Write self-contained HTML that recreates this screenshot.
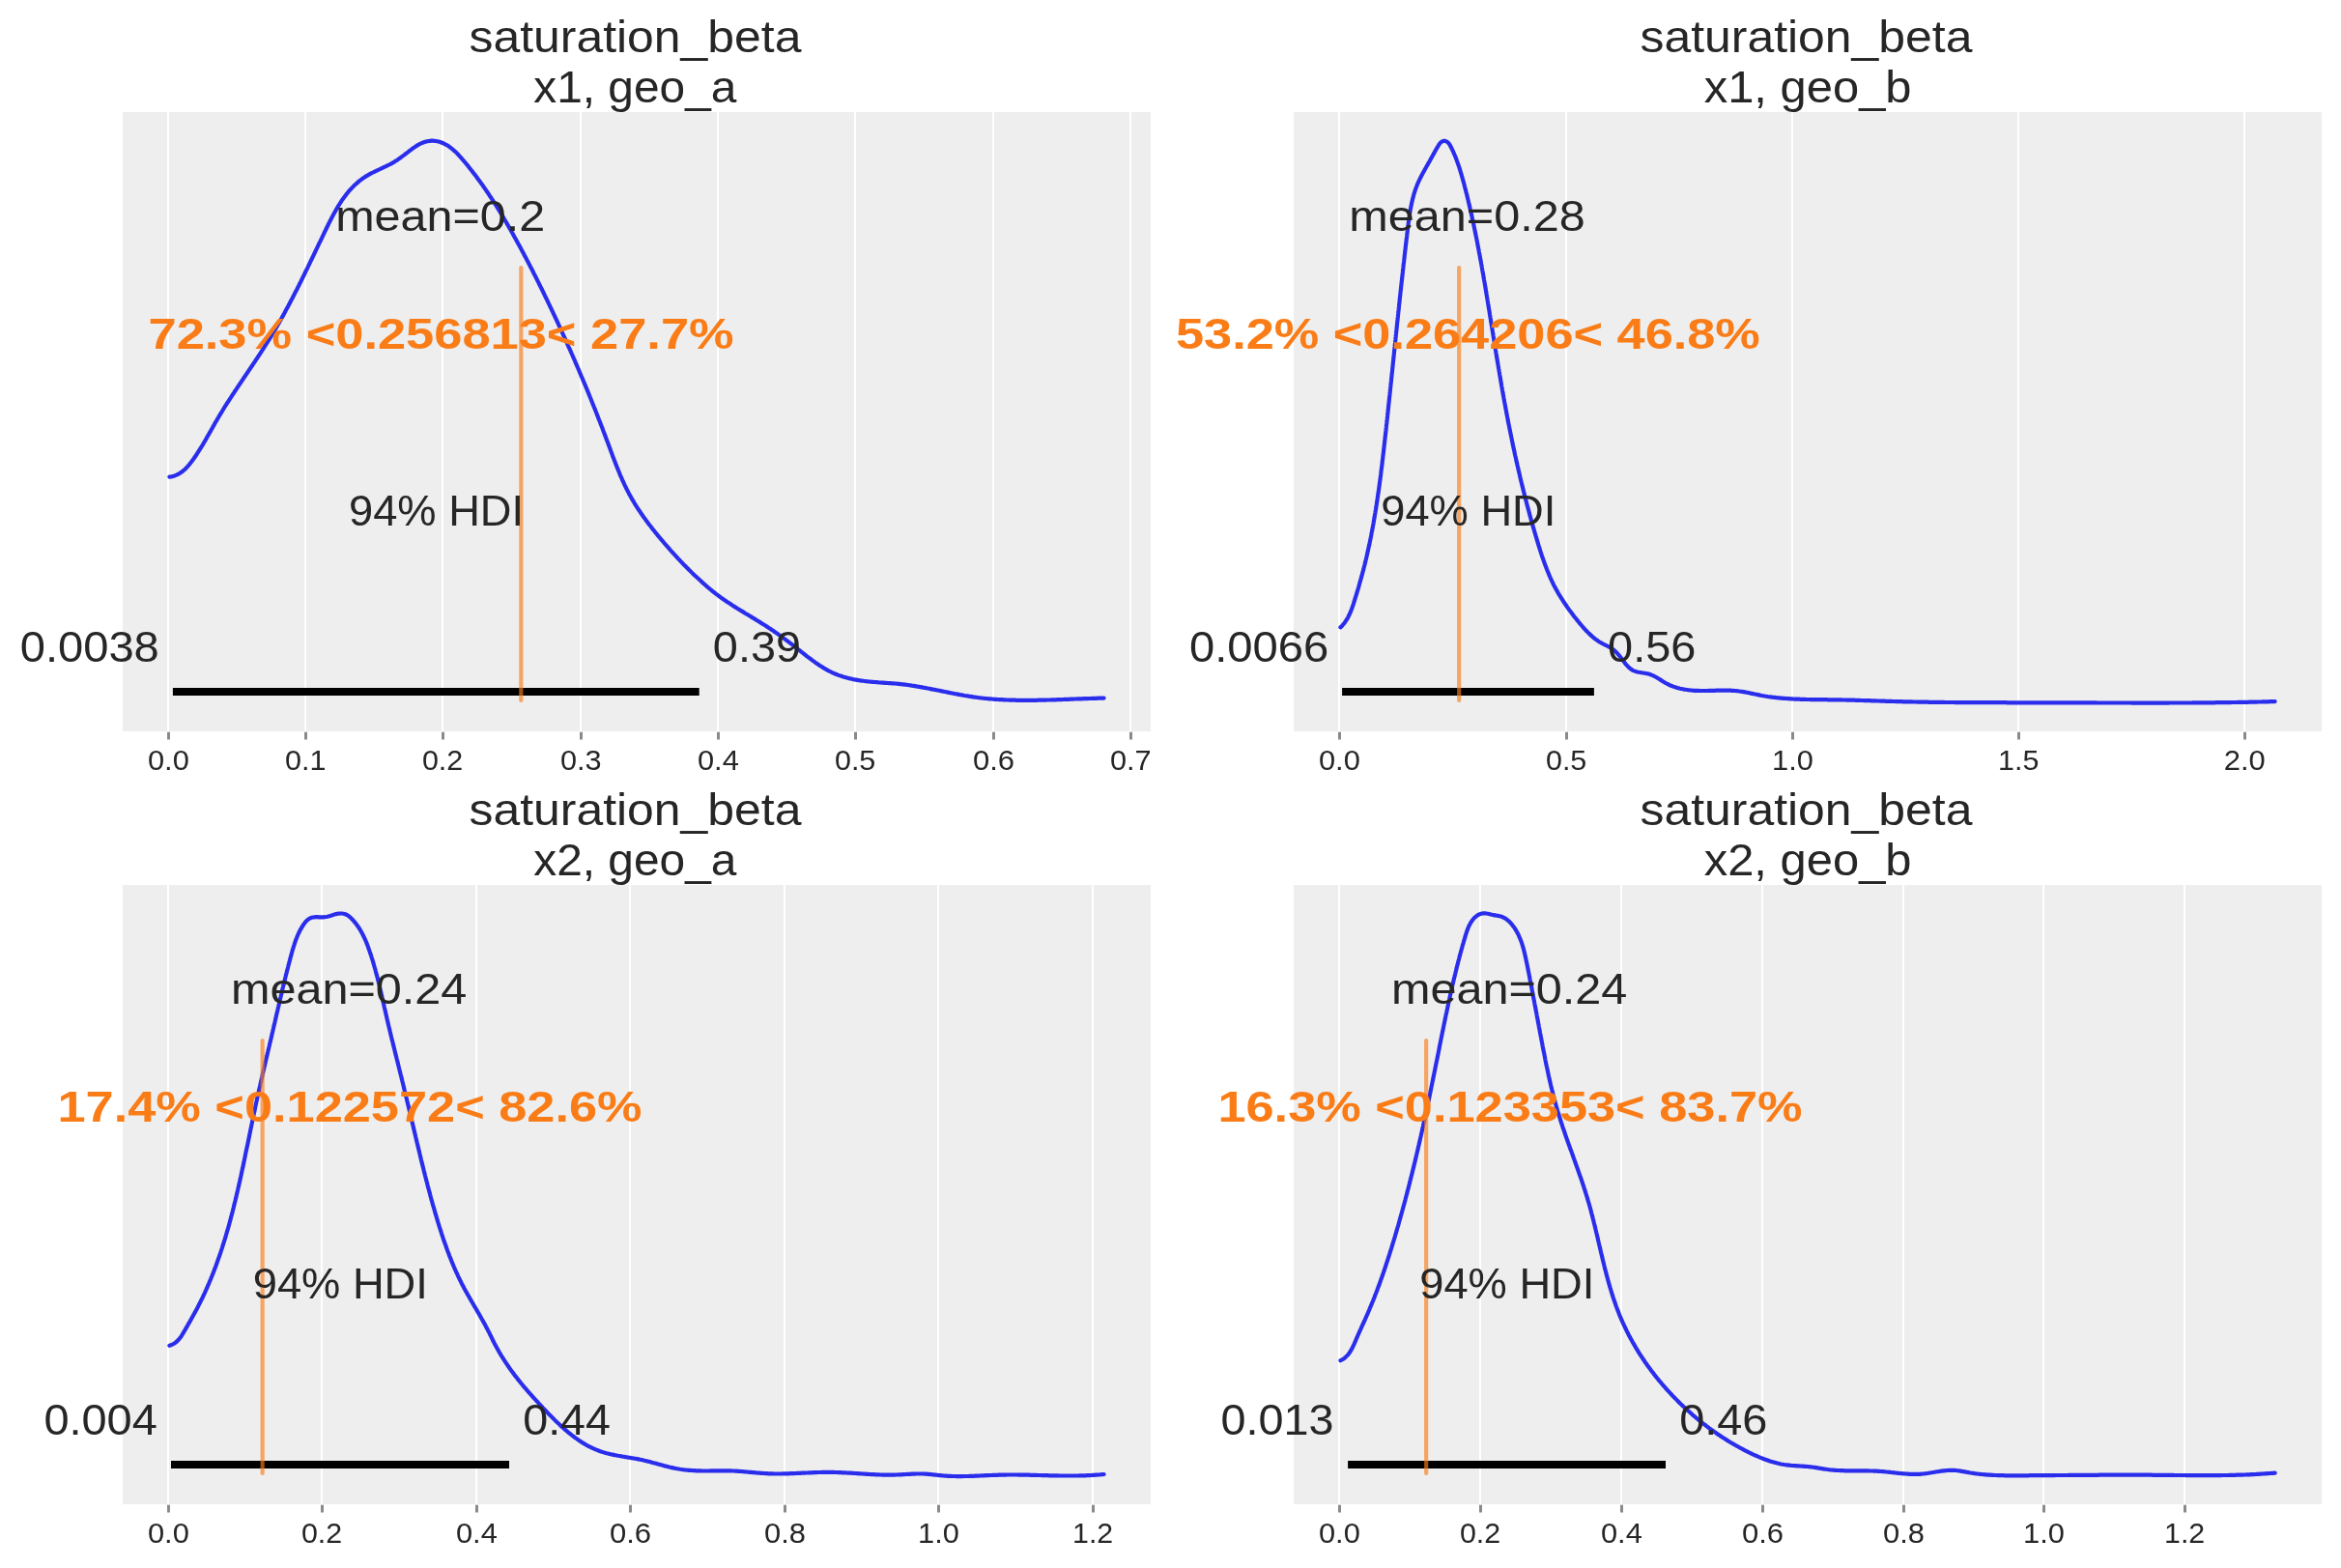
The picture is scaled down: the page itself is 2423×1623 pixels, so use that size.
<!DOCTYPE html>
<html><head><meta charset="utf-8"><title>saturation_beta posterior</title>
<style>
html,body{margin:0;padding:0;background:#fff;}
body{width:2423px;height:1623px;overflow:hidden;font-family:"Liberation Sans",sans-serif;}
svg{display:block;will-change:transform;font-family:"Liberation Sans",sans-serif;font-kerning:none;}
text{white-space:pre;}
</style></head><body>
<svg xmlns="http://www.w3.org/2000/svg" width="2423" height="1623" viewBox="0 0 2423 1623">
<rect x="0" y="0" width="2423" height="1623" fill="#ffffff"/>
<g id="TL">
<rect x="127" y="116" width="1064" height="641" fill="#eeeeee"/>
<rect x="173" y="116" width="2" height="641" fill="#ffffff"/>
<rect x="315" y="116" width="2" height="641" fill="#ffffff"/>
<rect x="457" y="116" width="2" height="641" fill="#ffffff"/>
<rect x="600" y="116" width="2" height="641" fill="#ffffff"/>
<rect x="742" y="116" width="2" height="641" fill="#ffffff"/>
<rect x="884" y="116" width="2" height="641" fill="#ffffff"/>
<rect x="1027" y="116" width="2" height="641" fill="#ffffff"/>
<rect x="1169" y="116" width="2" height="641" fill="#ffffff"/>
<rect x="173" y="757.7" width="3" height="7.8" fill="#8a8a8a"/>
<rect x="315" y="757.7" width="3" height="7.8" fill="#8a8a8a"/>
<rect x="457" y="757.7" width="3" height="7.8" fill="#8a8a8a"/>
<rect x="600" y="757.7" width="3" height="7.8" fill="#8a8a8a"/>
<rect x="742" y="757.7" width="3" height="7.8" fill="#8a8a8a"/>
<rect x="884" y="757.7" width="3" height="7.8" fill="#8a8a8a"/>
<rect x="1027" y="757.7" width="3" height="7.8" fill="#8a8a8a"/>
<rect x="1169" y="757.7" width="3" height="7.8" fill="#8a8a8a"/>
<path d="M175.4 493.6 L177.0 493.4 L178.5 493.1 L179.9 492.7 L181.3 492.2 L182.7 491.6 L184.0 491.0 L185.3 490.3 L186.5 489.6 L187.7 488.7 L188.9 487.9 L190.0 486.9 L191.1 486.0 L192.2 485.0 L193.2 483.9 L194.2 482.8 L195.2 481.7 L196.2 480.5 L197.1 479.3 L198.0 478.2 L198.9 476.9 L199.8 475.7 L200.7 474.5 L201.6 473.2 L202.4 472.0 L203.3 470.7 L204.1 469.5 L204.9 468.2 L205.7 467.0 L206.5 465.7 L207.3 464.4 L208.1 463.1 L208.9 461.9 L209.7 460.6 L210.4 459.3 L211.2 458.0 L212.0 456.7 L212.7 455.4 L213.5 454.1 L214.2 452.8 L214.9 451.5 L215.7 450.2 L216.4 448.9 L217.1 447.6 L217.9 446.3 L218.6 445.0 L219.4 443.7 L220.1 442.4 L220.8 441.1 L221.6 439.8 L222.3 438.4 L223.0 437.1 L223.8 435.9 L224.6 434.6 L225.3 433.3 L226.1 432.0 L226.8 430.7 L227.6 429.4 L228.4 428.1 L229.2 426.8 L230.0 425.5 L230.7 424.3 L231.5 423.0 L232.3 421.7 L233.1 420.4 L233.9 419.2 L234.7 417.9 L235.5 416.6 L236.4 415.4 L237.2 414.1 L238.0 412.8 L238.8 411.6 L239.6 410.3 L240.4 409.1 L241.3 407.8 L242.1 406.6 L242.9 405.3 L243.8 404.0 L244.6 402.8 L245.4 401.5 L246.3 400.3 L247.1 399.0 L247.9 397.8 L248.8 396.5 L249.6 395.3 L250.5 394.0 L251.3 392.8 L252.1 391.5 L253.0 390.3 L253.8 389.0 L254.7 387.8 L255.5 386.5 L256.4 385.3 L257.2 384.0 L258.0 382.8 L258.9 381.6 L259.7 380.3 L260.6 379.1 L261.4 377.8 L262.2 376.6 L263.1 375.3 L263.9 374.1 L264.7 372.8 L265.6 371.6 L266.4 370.3 L267.2 369.0 L268.1 367.8 L268.9 366.5 L269.7 365.3 L270.5 364.0 L271.3 362.8 L272.2 361.5 L273.0 360.2 L273.8 359.0 L274.6 357.7 L275.4 356.4 L276.2 355.2 L277.0 353.9 L277.8 352.6 L278.6 351.4 L279.3 350.1 L280.1 348.8 L280.9 347.5 L281.7 346.3 L282.4 345.0 L283.2 343.7 L284.0 342.4 L284.7 341.1 L285.5 339.8 L286.2 338.5 L287.0 337.3 L287.7 336.0 L288.5 334.7 L289.2 333.4 L289.9 332.1 L290.7 330.8 L291.4 329.5 L292.1 328.2 L292.9 326.9 L293.6 325.6 L294.3 324.3 L295.0 322.9 L295.7 321.6 L296.4 320.3 L297.1 319.0 L297.8 317.7 L298.5 316.4 L299.2 315.1 L299.9 313.7 L300.6 312.4 L301.3 311.1 L302.0 309.8 L302.7 308.4 L303.4 307.1 L304.1 305.8 L304.7 304.5 L305.4 303.1 L306.1 301.8 L306.8 300.5 L307.5 299.1 L308.1 297.8 L308.8 296.5 L309.5 295.1 L310.1 293.8 L310.8 292.5 L311.5 291.1 L312.1 289.8 L312.8 288.4 L313.5 287.1 L314.1 285.7 L314.8 284.4 L315.4 283.0 L316.1 281.7 L316.7 280.3 L317.4 279.0 L318.1 277.6 L318.7 276.3 L319.4 274.9 L320.0 273.6 L320.7 272.2 L321.3 270.9 L322.0 269.5 L322.6 268.2 L323.3 266.8 L323.9 265.5 L324.6 264.1 L325.2 262.7 L325.9 261.4 L326.5 260.0 L327.2 258.7 L327.8 257.3 L328.5 255.9 L329.1 254.6 L329.8 253.2 L330.4 251.8 L331.1 250.5 L331.8 249.1 L332.4 247.7 L333.1 246.4 L333.7 245.0 L334.4 243.6 L335.0 242.3 L335.7 240.9 L336.3 239.5 L337.0 238.2 L337.7 236.8 L338.3 235.4 L339.0 234.1 L339.7 232.7 L340.3 231.3 L341.0 230.0 L341.7 228.6 L342.4 227.3 L343.1 225.9 L343.8 224.6 L344.5 223.3 L345.2 221.9 L345.9 220.6 L346.7 219.3 L347.4 218.0 L348.1 216.7 L348.9 215.4 L349.7 214.1 L350.4 212.8 L351.2 211.6 L352.0 210.3 L352.8 209.1 L353.6 207.8 L354.5 206.6 L355.3 205.4 L356.2 204.2 L357.1 203.0 L357.9 201.9 L358.8 200.7 L359.8 199.6 L360.7 198.4 L361.6 197.3 L362.6 196.2 L363.6 195.2 L364.6 194.1 L365.6 193.1 L366.6 192.0 L367.7 191.0 L368.8 190.1 L369.9 189.1 L371.0 188.1 L372.1 187.2 L373.3 186.3 L374.5 185.4 L375.7 184.6 L376.9 183.7 L378.1 182.9 L379.4 182.1 L380.7 181.4 L382.0 180.6 L383.3 179.9 L384.7 179.2 L386.1 178.5 L387.4 177.8 L388.8 177.1 L390.2 176.5 L391.6 175.8 L393.0 175.2 L394.4 174.5 L395.8 173.9 L397.2 173.2 L398.6 172.5 L400.0 171.9 L401.4 171.2 L402.8 170.5 L404.1 169.8 L405.5 169.1 L406.8 168.3 L408.1 167.6 L409.3 166.8 L410.6 166.0 L411.8 165.2 L413.0 164.3 L414.2 163.5 L415.4 162.6 L416.6 161.7 L417.8 160.8 L419.0 159.9 L420.2 159.0 L421.4 158.1 L422.6 157.2 L423.8 156.2 L425.0 155.3 L426.2 154.4 L427.4 153.5 L428.7 152.6 L430.0 151.7 L431.2 150.9 L432.5 150.1 L433.9 149.4 L435.2 148.7 L436.6 148.1 L438.0 147.5 L439.4 147.0 L440.8 146.6 L442.2 146.3 L443.7 146.0 L445.2 145.8 L446.6 145.7 L448.1 145.7 L449.6 145.8 L451.0 146.0 L452.5 146.2 L453.9 146.6 L455.4 147.0 L456.8 147.5 L458.1 148.0 L459.5 148.6 L460.8 149.3 L462.1 150.0 L463.4 150.7 L464.6 151.6 L465.8 152.4 L467.0 153.3 L468.2 154.3 L469.3 155.3 L470.5 156.3 L471.6 157.3 L472.7 158.4 L473.8 159.5 L474.8 160.6 L475.9 161.8 L476.9 162.9 L477.9 164.1 L479.0 165.3 L480.0 166.5 L481.0 167.7 L482.0 168.8 L482.9 170.0 L483.9 171.2 L484.9 172.4 L485.8 173.6 L486.8 174.8 L487.7 176.0 L488.7 177.2 L489.6 178.4 L490.5 179.6 L491.5 180.8 L492.4 182.0 L493.3 183.2 L494.2 184.5 L495.1 185.7 L496.0 186.9 L496.8 188.1 L497.7 189.3 L498.6 190.5 L499.5 191.7 L500.3 193.0 L501.2 194.2 L502.0 195.4 L502.9 196.6 L503.7 197.8 L504.5 199.1 L505.4 200.3 L506.2 201.5 L507.0 202.8 L507.8 204.0 L508.6 205.2 L509.4 206.5 L510.2 207.7 L511.0 208.9 L511.8 210.2 L512.6 211.4 L513.4 212.7 L514.2 213.9 L515.0 215.2 L515.7 216.4 L516.5 217.7 L517.3 218.9 L518.0 220.2 L518.8 221.4 L519.6 222.7 L520.3 224.0 L521.1 225.2 L521.8 226.5 L522.6 227.8 L523.3 229.0 L524.1 230.3 L524.8 231.6 L525.5 232.9 L526.3 234.2 L527.0 235.4 L527.7 236.7 L528.5 238.0 L529.2 239.3 L529.9 240.6 L530.7 241.9 L531.4 243.2 L532.1 244.5 L532.8 245.8 L533.6 247.1 L534.3 248.4 L535.0 249.7 L535.7 251.0 L536.4 252.3 L537.2 253.6 L537.9 254.9 L538.6 256.2 L539.3 257.6 L540.0 258.9 L540.7 260.2 L541.4 261.5 L542.1 262.8 L542.8 264.2 L543.5 265.5 L544.2 266.8 L544.9 268.1 L545.6 269.5 L546.3 270.8 L547.0 272.1 L547.7 273.5 L548.4 274.8 L549.1 276.2 L549.8 277.5 L550.5 278.8 L551.2 280.2 L551.8 281.5 L552.5 282.9 L553.2 284.2 L553.9 285.6 L554.6 286.9 L555.2 288.3 L555.9 289.6 L556.6 291.0 L557.3 292.3 L557.9 293.7 L558.6 295.0 L559.3 296.4 L560.0 297.7 L560.6 299.1 L561.3 300.4 L562.0 301.8 L562.6 303.2 L563.3 304.5 L563.9 305.9 L564.6 307.2 L565.3 308.6 L565.9 310.0 L566.6 311.3 L567.2 312.7 L567.9 314.1 L568.5 315.4 L569.2 316.8 L569.8 318.1 L570.5 319.5 L571.1 320.9 L571.8 322.2 L572.4 323.6 L573.0 325.0 L573.7 326.3 L574.3 327.7 L575.0 329.1 L575.6 330.4 L576.2 331.8 L576.9 333.2 L577.5 334.5 L578.1 335.9 L578.8 337.3 L579.4 338.6 L580.0 340.0 L580.6 341.4 L581.3 342.7 L581.9 344.1 L582.5 345.5 L583.1 346.8 L583.7 348.2 L584.4 349.6 L585.0 350.9 L585.6 352.3 L586.2 353.7 L586.8 355.0 L587.4 356.4 L588.0 357.8 L588.6 359.1 L589.3 360.5 L589.9 361.9 L590.5 363.2 L591.1 364.6 L591.7 366.0 L592.3 367.3 L592.9 368.7 L593.5 370.1 L594.1 371.4 L594.7 372.8 L595.3 374.2 L595.8 375.5 L596.4 376.9 L597.0 378.3 L597.6 379.7 L598.2 381.0 L598.8 382.4 L599.4 383.8 L600.0 385.2 L600.5 386.5 L601.1 387.9 L601.7 389.3 L602.3 390.6 L602.9 392.0 L603.4 393.4 L604.0 394.8 L604.6 396.2 L605.2 397.5 L605.7 398.9 L606.3 400.3 L606.9 401.7 L607.5 403.0 L608.0 404.4 L608.6 405.8 L609.2 407.2 L609.7 408.6 L610.3 409.9 L610.8 411.3 L611.4 412.7 L612.0 414.1 L612.5 415.5 L613.1 416.9 L613.6 418.3 L614.2 419.6 L614.7 421.0 L615.3 422.4 L615.9 423.8 L616.4 425.2 L617.0 426.6 L617.5 428.0 L618.0 429.4 L618.6 430.8 L619.1 432.2 L619.7 433.6 L620.2 435.0 L620.8 436.3 L621.3 437.7 L621.8 439.1 L622.4 440.5 L622.9 441.9 L623.5 443.3 L624.0 444.7 L624.5 446.2 L625.1 447.6 L625.6 449.0 L626.1 450.4 L626.7 451.8 L627.2 453.2 L627.7 454.6 L628.2 456.0 L628.8 457.4 L629.3 458.8 L629.8 460.2 L630.3 461.6 L630.9 463.1 L631.4 464.5 L631.9 465.9 L632.4 467.3 L633.0 468.7 L633.5 470.1 L634.0 471.6 L634.5 473.0 L635.1 474.4 L635.6 475.8 L636.2 477.2 L636.7 478.6 L637.2 480.0 L637.8 481.4 L638.3 482.8 L638.9 484.2 L639.5 485.6 L640.0 487.0 L640.6 488.4 L641.2 489.8 L641.7 491.2 L642.3 492.6 L642.9 493.9 L643.5 495.3 L644.1 496.7 L644.7 498.1 L645.4 499.4 L646.0 500.8 L646.6 502.1 L647.3 503.5 L647.9 504.8 L648.6 506.2 L649.3 507.5 L649.9 508.8 L650.6 510.1 L651.3 511.5 L652.1 512.8 L652.8 514.1 L653.5 515.4 L654.2 516.7 L655.0 518.0 L655.8 519.2 L656.5 520.5 L657.3 521.8 L658.1 523.1 L658.9 524.3 L659.7 525.6 L660.5 526.8 L661.3 528.1 L662.2 529.3 L663.0 530.5 L663.8 531.8 L664.7 533.0 L665.5 534.2 L666.4 535.4 L667.3 536.6 L668.2 537.9 L669.0 539.1 L669.9 540.3 L670.8 541.5 L671.7 542.7 L672.6 543.8 L673.6 545.0 L674.5 546.2 L675.4 547.4 L676.3 548.6 L677.3 549.7 L678.2 550.9 L679.1 552.1 L680.1 553.2 L681.0 554.4 L682.0 555.6 L683.0 556.7 L683.9 557.9 L684.9 559.0 L685.9 560.2 L686.8 561.3 L687.8 562.4 L688.8 563.6 L689.8 564.7 L690.8 565.9 L691.8 567.0 L692.8 568.1 L693.7 569.2 L694.7 570.4 L695.8 571.5 L696.8 572.6 L697.8 573.7 L698.8 574.8 L699.8 575.9 L700.8 577.0 L701.8 578.1 L702.9 579.2 L703.9 580.3 L704.9 581.4 L706.0 582.5 L707.0 583.6 L708.1 584.7 L709.1 585.7 L710.2 586.8 L711.2 587.9 L712.3 588.9 L713.3 590.0 L714.4 591.0 L715.5 592.1 L716.5 593.1 L717.6 594.2 L718.7 595.2 L719.8 596.3 L720.9 597.3 L722.0 598.3 L723.1 599.3 L724.2 600.3 L725.3 601.3 L726.4 602.4 L727.5 603.4 L728.6 604.3 L729.7 605.3 L730.8 606.3 L732.0 607.3 L733.1 608.3 L734.3 609.2 L735.4 610.2 L736.6 611.1 L737.7 612.1 L738.9 613.0 L740.1 613.9 L741.2 614.8 L742.4 615.7 L743.6 616.6 L744.8 617.5 L746.0 618.4 L747.2 619.3 L748.5 620.1 L749.7 621.0 L750.9 621.8 L752.2 622.7 L753.4 623.5 L754.7 624.3 L755.9 625.1 L757.2 626.0 L758.4 626.8 L759.7 627.6 L761.0 628.4 L762.3 629.2 L763.5 630.0 L764.8 630.8 L766.1 631.6 L767.4 632.3 L768.7 633.1 L770.0 633.9 L771.2 634.7 L772.5 635.5 L773.8 636.2 L775.1 637.0 L776.4 637.8 L777.7 638.6 L779.0 639.4 L780.3 640.1 L781.5 640.9 L782.8 641.7 L784.1 642.5 L785.4 643.3 L786.7 644.1 L787.9 644.9 L789.2 645.7 L790.5 646.5 L791.8 647.3 L793.0 648.1 L794.3 648.9 L795.5 649.7 L796.8 650.5 L798.0 651.4 L799.3 652.2 L800.5 653.0 L801.7 653.9 L802.9 654.7 L804.2 655.6 L805.4 656.4 L806.6 657.3 L807.8 658.2 L809.0 659.1 L810.2 659.9 L811.4 660.8 L812.6 661.7 L813.8 662.6 L815.0 663.5 L816.2 664.4 L817.4 665.3 L818.6 666.2 L819.8 667.1 L821.0 668.1 L822.1 669.0 L823.3 669.9 L824.5 670.8 L825.7 671.8 L826.9 672.7 L828.1 673.6 L829.3 674.6 L830.5 675.5 L831.7 676.5 L832.9 677.4 L834.0 678.3 L835.2 679.3 L836.4 680.2 L837.7 681.1 L838.9 682.0 L840.1 682.9 L841.3 683.8 L842.5 684.7 L843.7 685.6 L845.0 686.5 L846.2 687.3 L847.5 688.2 L848.7 689.0 L850.0 689.8 L851.3 690.6 L852.5 691.4 L853.8 692.2 L855.1 692.9 L856.4 693.6 L857.7 694.3 L859.1 695.0 L860.4 695.7 L861.7 696.3 L863.1 696.9 L864.4 697.5 L865.8 698.0 L867.2 698.6 L868.6 699.1 L870.0 699.6 L871.4 700.0 L872.8 700.5 L874.3 700.9 L875.7 701.3 L877.1 701.7 L878.6 702.1 L880.0 702.4 L881.5 702.7 L882.9 703.1 L884.4 703.4 L885.9 703.6 L887.3 703.9 L888.8 704.1 L890.3 704.4 L891.8 704.6 L893.3 704.8 L894.8 705.0 L896.3 705.2 L897.7 705.3 L899.2 705.5 L900.7 705.6 L902.2 705.8 L903.7 705.9 L905.2 706.0 L906.7 706.1 L908.2 706.2 L909.7 706.4 L911.2 706.5 L912.7 706.6 L914.2 706.7 L915.7 706.8 L917.2 706.9 L918.7 707.0 L920.2 707.1 L921.7 707.2 L923.2 707.3 L924.7 707.4 L926.2 707.5 L927.6 707.6 L929.1 707.8 L930.6 707.9 L932.1 708.1 L933.6 708.3 L935.1 708.4 L936.6 708.6 L938.1 708.8 L939.5 709.0 L941.0 709.2 L942.5 709.4 L944.0 709.7 L945.5 709.9 L947.0 710.1 L948.4 710.4 L949.9 710.6 L951.4 710.9 L952.9 711.1 L954.3 711.4 L955.8 711.7 L957.3 711.9 L958.8 712.2 L960.2 712.5 L961.7 712.8 L963.2 713.1 L964.7 713.4 L966.1 713.7 L967.6 713.9 L969.1 714.2 L970.5 714.5 L972.0 714.8 L973.5 715.1 L975.0 715.4 L976.4 715.7 L977.9 716.0 L979.4 716.3 L980.8 716.6 L982.3 716.9 L983.8 717.2 L985.3 717.5 L986.7 717.8 L988.2 718.1 L989.7 718.3 L991.1 718.6 L992.6 718.9 L994.1 719.2 L995.6 719.4 L997.0 719.7 L998.5 720.0 L1000.0 720.2 L1001.5 720.4 L1003.0 720.7 L1004.4 720.9 L1005.9 721.1 L1007.4 721.4 L1008.9 721.6 L1010.4 721.8 L1011.8 722.0 L1013.3 722.2 L1014.8 722.4 L1016.3 722.5 L1017.8 722.7 L1019.3 722.9 L1020.8 723.0 L1022.2 723.2 L1023.7 723.3 L1025.2 723.4 L1026.7 723.5 L1028.2 723.7 L1029.7 723.8 L1031.2 723.9 L1032.7 724.0 L1034.2 724.1 L1035.7 724.2 L1037.2 724.2 L1038.7 724.3 L1040.2 724.4 L1041.7 724.5 L1043.2 724.5 L1044.7 724.6 L1046.2 724.6 L1047.7 724.7 L1049.2 724.7 L1050.7 724.7 L1052.2 724.8 L1053.7 724.8 L1055.2 724.8 L1056.7 724.8 L1058.2 724.8 L1059.7 724.9 L1061.2 724.9 L1062.7 724.9 L1064.2 724.9 L1065.7 724.9 L1067.2 724.8 L1068.7 724.8 L1070.2 724.8 L1071.7 724.8 L1073.2 724.8 L1074.7 724.7 L1076.2 724.7 L1077.7 724.7 L1079.3 724.7 L1080.8 724.6 L1082.3 724.6 L1083.8 724.5 L1085.3 724.5 L1086.8 724.5 L1088.3 724.4 L1089.8 724.4 L1091.3 724.3 L1092.8 724.3 L1094.3 724.2 L1095.8 724.2 L1097.3 724.1 L1098.8 724.1 L1100.3 724.0 L1101.8 723.9 L1103.3 723.9 L1104.8 723.8 L1106.3 723.8 L1107.8 723.7 L1109.3 723.7 L1110.8 723.6 L1112.3 723.5 L1113.8 723.5 L1115.3 723.4 L1116.8 723.4 L1118.3 723.3 L1119.8 723.3 L1121.3 723.2 L1122.8 723.2 L1124.3 723.1 L1125.8 723.1 L1127.3 723.0 L1128.8 723.0 L1130.3 722.9 L1131.8 722.9 L1133.3 722.8 L1134.8 722.8 L1136.3 722.7 L1137.7 722.7 L1139.2 722.7 L1140.7 722.6 L1142.2 722.6 L1142.6 722.6" fill="none" stroke="#2a2eec" stroke-width="4.17" stroke-linecap="round" stroke-linejoin="round"/>
<rect x="178.9" y="712" width="544.8" height="8" fill="#000000"/>
<line x1="539.32" x2="539.32" y1="724.95" y2="277.10" stroke="#fa7c17" stroke-opacity="0.65" stroke-width="4.17" stroke-linecap="round"/>
<text transform="translate(20.77,685.03) scale(1.0670,1)" font-size="44.15" fill="#262626">0.0038</text>
<text transform="translate(737.86,685.03) scale(1.0607,1)" font-size="44.15" fill="#262626">0.39</text>
<text transform="translate(361.02,544.30) scale(1.0253,1)" font-size="44.15" fill="#262626">94% HDI</text>
<text transform="translate(347.19,238.96) scale(1.0984,1)" font-size="44.15" fill="#262626">mean=0.2</text>
<text transform="translate(153.48,360.74) scale(1.1873,1)" font-size="44.15" font-weight="bold" fill="#fa7c17">72.3% &lt;0.256813&lt; 27.7%</text>
<text transform="translate(152.94,796.70) scale(1.0282,1)" font-size="30.02" fill="#262626">0.0</text>
<text transform="translate(294.95,796.70) scale(1.0175,1)" font-size="30.02" fill="#262626">0.1</text>
<text transform="translate(436.96,796.70) scale(1.0131,1)" font-size="30.02" fill="#262626">0.2</text>
<text transform="translate(579.95,796.70) scale(1.0223,1)" font-size="30.02" fill="#262626">0.3</text>
<text transform="translate(721.94,796.70) scale(1.0278,1)" font-size="30.02" fill="#262626">0.4</text>
<text transform="translate(863.95,796.70) scale(1.0157,1)" font-size="30.02" fill="#262626">0.5</text>
<text transform="translate(1006.93,796.70) scale(1.0345,1)" font-size="30.02" fill="#262626">0.6</text>
<text transform="translate(1148.94,796.70) scale(1.0235,1)" font-size="30.02" fill="#262626">0.7</text>
<text transform="translate(485.49,53.80) scale(1.0596,1)" font-size="47.09" fill="#262626">saturation_beta</text>
<text transform="translate(552.22,106.10) scale(1.0164,1)" font-size="47.09" fill="#262626">x1, geo_a</text>
</g>
<g id="TR">
<rect x="1339" y="116" width="1064" height="641" fill="#eeeeee"/>
<rect x="1385" y="116" width="2" height="641" fill="#ffffff"/>
<rect x="1620" y="116" width="2" height="641" fill="#ffffff"/>
<rect x="1854" y="116" width="2" height="641" fill="#ffffff"/>
<rect x="2088" y="116" width="2" height="641" fill="#ffffff"/>
<rect x="2322" y="116" width="2" height="641" fill="#ffffff"/>
<rect x="1385" y="757.7" width="3" height="7.8" fill="#8a8a8a"/>
<rect x="1620" y="757.7" width="3" height="7.8" fill="#8a8a8a"/>
<rect x="1854" y="757.7" width="3" height="7.8" fill="#8a8a8a"/>
<rect x="2088" y="757.7" width="3" height="7.8" fill="#8a8a8a"/>
<rect x="2322" y="757.7" width="3" height="7.8" fill="#8a8a8a"/>
<path d="M1387.4 649.4 L1388.5 648.4 L1389.5 647.3 L1390.4 646.2 L1391.4 645.1 L1392.2 643.9 L1393.0 642.7 L1393.8 641.5 L1394.6 640.2 L1395.3 638.9 L1395.9 637.6 L1396.6 636.3 L1397.2 634.9 L1397.8 633.6 L1398.3 632.2 L1398.9 630.8 L1399.4 629.4 L1399.9 627.9 L1400.4 626.5 L1400.9 625.1 L1401.3 623.6 L1401.8 622.2 L1402.2 620.7 L1402.7 619.3 L1403.1 617.8 L1403.6 616.4 L1404.0 614.9 L1404.5 613.5 L1404.9 612.0 L1405.3 610.6 L1405.8 609.1 L1406.2 607.7 L1406.6 606.2 L1407.0 604.8 L1407.4 603.3 L1407.8 601.9 L1408.2 600.5 L1408.6 599.0 L1409.0 597.6 L1409.4 596.1 L1409.8 594.7 L1410.2 593.2 L1410.6 591.8 L1411.0 590.3 L1411.4 588.9 L1411.7 587.4 L1412.1 586.0 L1412.5 584.5 L1412.8 583.1 L1413.2 581.6 L1413.5 580.2 L1413.9 578.7 L1414.2 577.3 L1414.6 575.8 L1414.9 574.4 L1415.2 572.9 L1415.6 571.4 L1415.9 570.0 L1416.2 568.5 L1416.5 567.1 L1416.8 565.6 L1417.2 564.1 L1417.5 562.7 L1417.8 561.2 L1418.1 559.7 L1418.4 558.3 L1418.7 556.8 L1419.0 555.3 L1419.3 553.9 L1419.5 552.4 L1419.8 550.9 L1420.1 549.5 L1420.4 548.0 L1420.7 546.5 L1420.9 545.1 L1421.2 543.6 L1421.5 542.1 L1421.7 540.6 L1422.0 539.2 L1422.2 537.7 L1422.5 536.2 L1422.7 534.7 L1423.0 533.3 L1423.2 531.8 L1423.5 530.3 L1423.7 528.8 L1424.0 527.3 L1424.2 525.9 L1424.4 524.4 L1424.7 522.9 L1424.9 521.4 L1425.1 519.9 L1425.4 518.5 L1425.6 517.0 L1425.8 515.5 L1426.0 514.0 L1426.2 512.5 L1426.4 511.0 L1426.7 509.5 L1426.9 508.1 L1427.1 506.6 L1427.3 505.1 L1427.5 503.6 L1427.7 502.1 L1427.9 500.6 L1428.1 499.1 L1428.3 497.7 L1428.5 496.2 L1428.7 494.7 L1428.9 493.2 L1429.1 491.7 L1429.3 490.2 L1429.4 488.7 L1429.6 487.2 L1429.8 485.7 L1430.0 484.3 L1430.2 482.8 L1430.4 481.3 L1430.6 479.8 L1430.7 478.3 L1430.9 476.8 L1431.1 475.3 L1431.3 473.8 L1431.4 472.3 L1431.6 470.8 L1431.8 469.3 L1432.0 467.8 L1432.1 466.4 L1432.3 464.9 L1432.5 463.4 L1432.6 461.9 L1432.8 460.4 L1433.0 458.9 L1433.1 457.4 L1433.3 455.9 L1433.5 454.4 L1433.6 452.9 L1433.8 451.4 L1434.0 449.9 L1434.1 448.4 L1434.3 447.0 L1434.5 445.5 L1434.6 444.0 L1434.8 442.5 L1434.9 441.0 L1435.1 439.5 L1435.3 438.0 L1435.4 436.5 L1435.6 435.0 L1435.8 433.5 L1435.9 432.0 L1436.1 430.5 L1436.2 429.0 L1436.4 427.6 L1436.6 426.1 L1436.7 424.6 L1436.9 423.1 L1437.0 421.6 L1437.2 420.1 L1437.3 418.6 L1437.5 417.1 L1437.7 415.6 L1437.8 414.1 L1438.0 412.6 L1438.1 411.1 L1438.3 409.7 L1438.5 408.2 L1438.6 406.7 L1438.8 405.2 L1438.9 403.7 L1439.1 402.2 L1439.2 400.7 L1439.4 399.2 L1439.5 397.7 L1439.7 396.2 L1439.9 394.7 L1440.0 393.2 L1440.2 391.8 L1440.3 390.3 L1440.5 388.8 L1440.6 387.3 L1440.8 385.8 L1441.0 384.3 L1441.1 382.8 L1441.3 381.3 L1441.4 379.8 L1441.6 378.3 L1441.7 376.8 L1441.9 375.4 L1442.0 373.9 L1442.2 372.4 L1442.3 370.9 L1442.5 369.4 L1442.7 367.9 L1442.8 366.4 L1443.0 364.9 L1443.1 363.4 L1443.3 361.9 L1443.4 360.5 L1443.6 359.0 L1443.7 357.5 L1443.9 356.0 L1444.1 354.5 L1444.2 353.0 L1444.4 351.5 L1444.5 350.0 L1444.7 348.5 L1444.8 347.0 L1445.0 345.5 L1445.1 344.1 L1445.3 342.6 L1445.5 341.1 L1445.6 339.6 L1445.8 338.1 L1445.9 336.6 L1446.1 335.1 L1446.2 333.6 L1446.4 332.1 L1446.6 330.6 L1446.7 329.2 L1446.9 327.7 L1447.0 326.2 L1447.2 324.7 L1447.3 323.2 L1447.5 321.7 L1447.7 320.2 L1447.8 318.7 L1448.0 317.2 L1448.1 315.7 L1448.3 314.3 L1448.5 312.8 L1448.6 311.3 L1448.8 309.8 L1448.9 308.3 L1449.1 306.8 L1449.3 305.3 L1449.4 303.8 L1449.6 302.3 L1449.7 300.8 L1449.9 299.4 L1450.1 297.9 L1450.2 296.4 L1450.4 294.9 L1450.6 293.4 L1450.7 291.9 L1450.9 290.4 L1451.1 288.9 L1451.2 287.4 L1451.4 285.9 L1451.6 284.4 L1451.7 283.0 L1451.9 281.5 L1452.0 280.0 L1452.2 278.5 L1452.4 277.0 L1452.5 275.5 L1452.7 274.0 L1452.9 272.5 L1453.1 271.0 L1453.2 269.5 L1453.4 268.0 L1453.6 266.6 L1453.7 265.1 L1453.9 263.6 L1454.1 262.1 L1454.2 260.6 L1454.4 259.1 L1454.6 257.6 L1454.8 256.1 L1454.9 254.6 L1455.1 253.1 L1455.3 251.6 L1455.5 250.1 L1455.6 248.6 L1455.8 247.2 L1456.0 245.7 L1456.2 244.2 L1456.3 242.7 L1456.5 241.2 L1456.7 239.7 L1456.9 238.2 L1457.0 236.7 L1457.2 235.2 L1457.4 233.7 L1457.6 232.2 L1457.8 230.7 L1458.0 229.2 L1458.2 227.7 L1458.4 226.2 L1458.6 224.8 L1458.8 223.3 L1459.0 221.8 L1459.3 220.3 L1459.5 218.8 L1459.7 217.3 L1460.0 215.9 L1460.3 214.4 L1460.6 212.9 L1460.9 211.5 L1461.2 210.0 L1461.5 208.5 L1461.9 207.1 L1462.2 205.6 L1462.6 204.2 L1463.0 202.8 L1463.4 201.3 L1463.8 199.9 L1464.3 198.5 L1464.7 197.0 L1465.2 195.6 L1465.7 194.2 L1466.3 192.8 L1466.8 191.4 L1467.4 190.0 L1468.0 188.7 L1468.6 187.3 L1469.3 185.9 L1469.9 184.5 L1470.6 183.2 L1471.3 181.8 L1472.0 180.5 L1472.7 179.1 L1473.5 177.8 L1474.2 176.5 L1474.9 175.2 L1475.7 173.8 L1476.4 172.5 L1477.2 171.2 L1477.9 169.9 L1478.6 168.6 L1479.4 167.3 L1480.1 166.1 L1480.8 164.8 L1481.5 163.5 L1482.2 162.2 L1482.9 161.0 L1483.6 159.7 L1484.3 158.4 L1485.1 157.1 L1485.8 155.8 L1486.5 154.5 L1487.3 153.2 L1488.1 151.9 L1488.9 150.5 L1489.7 149.2 L1490.6 148.0 L1491.7 147.0 L1493.0 146.2 L1494.4 145.9 L1495.8 145.9 L1497.2 146.4 L1498.4 147.2 L1499.4 148.3 L1500.3 149.5 L1501.1 150.8 L1501.8 152.2 L1502.5 153.6 L1503.1 154.9 L1503.8 156.3 L1504.4 157.7 L1505.0 159.1 L1505.6 160.5 L1506.2 161.9 L1506.8 163.3 L1507.3 164.7 L1507.8 166.1 L1508.3 167.5 L1508.8 168.9 L1509.3 170.3 L1509.8 171.7 L1510.3 173.1 L1510.7 174.5 L1511.2 176.0 L1511.6 177.4 L1512.0 178.8 L1512.5 180.2 L1512.9 181.7 L1513.3 183.1 L1513.7 184.5 L1514.1 186.0 L1514.5 187.4 L1514.9 188.9 L1515.3 190.3 L1515.7 191.7 L1516.0 193.2 L1516.4 194.6 L1516.8 196.1 L1517.2 197.5 L1517.5 199.0 L1517.9 200.4 L1518.3 201.9 L1518.6 203.4 L1519.0 204.8 L1519.3 206.3 L1519.7 207.7 L1520.0 209.2 L1520.4 210.7 L1520.7 212.1 L1521.1 213.6 L1521.4 215.0 L1521.7 216.5 L1522.1 218.0 L1522.4 219.4 L1522.7 220.9 L1523.1 222.4 L1523.4 223.8 L1523.7 225.3 L1524.0 226.8 L1524.3 228.3 L1524.7 229.7 L1525.0 231.2 L1525.3 232.7 L1525.6 234.1 L1525.9 235.6 L1526.2 237.1 L1526.5 238.5 L1526.8 240.0 L1527.1 241.5 L1527.4 243.0 L1527.7 244.4 L1528.0 245.9 L1528.3 247.4 L1528.6 248.8 L1528.9 250.3 L1529.2 251.8 L1529.4 253.3 L1529.7 254.7 L1530.0 256.2 L1530.3 257.7 L1530.6 259.1 L1530.8 260.6 L1531.1 262.1 L1531.4 263.6 L1531.7 265.0 L1531.9 266.5 L1532.2 268.0 L1532.5 269.5 L1532.8 270.9 L1533.0 272.4 L1533.3 273.9 L1533.6 275.4 L1533.8 276.8 L1534.1 278.3 L1534.3 279.8 L1534.6 281.3 L1534.9 282.7 L1535.1 284.2 L1535.4 285.7 L1535.6 287.2 L1535.9 288.6 L1536.1 290.1 L1536.4 291.6 L1536.7 293.1 L1536.9 294.5 L1537.2 296.0 L1537.4 297.5 L1537.7 299.0 L1537.9 300.5 L1538.2 301.9 L1538.4 303.4 L1538.6 304.9 L1538.9 306.4 L1539.1 307.9 L1539.4 309.3 L1539.6 310.8 L1539.9 312.3 L1540.1 313.8 L1540.4 315.3 L1540.6 316.7 L1540.8 318.2 L1541.1 319.7 L1541.3 321.2 L1541.6 322.7 L1541.8 324.1 L1542.0 325.6 L1542.3 327.1 L1542.5 328.6 L1542.8 330.1 L1543.0 331.5 L1543.2 333.0 L1543.5 334.5 L1543.7 336.0 L1544.0 337.5 L1544.2 338.9 L1544.4 340.4 L1544.7 341.9 L1544.9 343.4 L1545.2 344.9 L1545.4 346.3 L1545.6 347.8 L1545.9 349.3 L1546.1 350.8 L1546.4 352.3 L1546.6 353.8 L1546.8 355.2 L1547.1 356.7 L1547.3 358.2 L1547.6 359.7 L1547.8 361.2 L1548.0 362.6 L1548.3 364.1 L1548.5 365.6 L1548.8 367.1 L1549.0 368.6 L1549.2 370.0 L1549.5 371.5 L1549.7 373.0 L1550.0 374.5 L1550.2 376.0 L1550.5 377.4 L1550.7 378.9 L1551.0 380.4 L1551.2 381.9 L1551.5 383.4 L1551.7 384.8 L1552.0 386.3 L1552.2 387.8 L1552.5 389.3 L1552.7 390.8 L1553.0 392.2 L1553.2 393.7 L1553.5 395.2 L1553.7 396.7 L1554.0 398.2 L1554.2 399.6 L1554.5 401.1 L1554.8 402.6 L1555.0 404.1 L1555.3 405.5 L1555.5 407.0 L1555.8 408.5 L1556.1 410.0 L1556.3 411.4 L1556.6 412.9 L1556.9 414.4 L1557.1 415.9 L1557.4 417.3 L1557.7 418.8 L1558.0 420.3 L1558.2 421.8 L1558.5 423.2 L1558.8 424.7 L1559.1 426.2 L1559.3 427.7 L1559.6 429.1 L1559.9 430.6 L1560.2 432.1 L1560.5 433.6 L1560.7 435.0 L1561.0 436.5 L1561.3 438.0 L1561.6 439.4 L1561.9 440.9 L1562.2 442.4 L1562.5 443.9 L1562.8 445.3 L1563.1 446.8 L1563.4 448.3 L1563.7 449.7 L1564.0 451.2 L1564.3 452.7 L1564.6 454.1 L1564.9 455.6 L1565.2 457.1 L1565.5 458.5 L1565.8 460.0 L1566.1 461.5 L1566.4 462.9 L1566.7 464.4 L1567.1 465.9 L1567.4 467.3 L1567.7 468.8 L1568.0 470.3 L1568.3 471.7 L1568.7 473.2 L1569.0 474.7 L1569.3 476.1 L1569.6 477.6 L1570.0 479.1 L1570.3 480.5 L1570.6 482.0 L1571.0 483.4 L1571.3 484.9 L1571.6 486.4 L1572.0 487.8 L1572.3 489.3 L1572.7 490.7 L1573.0 492.2 L1573.3 493.7 L1573.7 495.1 L1574.0 496.6 L1574.4 498.0 L1574.7 499.5 L1575.1 500.9 L1575.4 502.4 L1575.8 503.9 L1576.2 505.3 L1576.5 506.8 L1576.9 508.2 L1577.3 509.7 L1577.6 511.1 L1578.0 512.6 L1578.4 514.0 L1578.7 515.5 L1579.1 516.9 L1579.5 518.4 L1579.9 519.8 L1580.2 521.3 L1580.6 522.7 L1581.0 524.2 L1581.4 525.6 L1581.8 527.1 L1582.2 528.5 L1582.6 530.0 L1582.9 531.4 L1583.3 532.9 L1583.7 534.3 L1584.1 535.8 L1584.5 537.2 L1584.9 538.7 L1585.3 540.1 L1585.7 541.6 L1586.2 543.0 L1586.6 544.5 L1587.0 545.9 L1587.4 547.3 L1587.8 548.8 L1588.2 550.2 L1588.7 551.7 L1589.1 553.1 L1589.5 554.5 L1589.9 556.0 L1590.4 557.4 L1590.8 558.9 L1591.2 560.3 L1591.7 561.7 L1592.1 563.2 L1592.5 564.6 L1593.0 566.0 L1593.4 567.5 L1593.9 568.9 L1594.3 570.3 L1594.8 571.8 L1595.3 573.2 L1595.7 574.6 L1596.2 576.0 L1596.7 577.5 L1597.2 578.9 L1597.7 580.3 L1598.2 581.7 L1598.7 583.1 L1599.2 584.5 L1599.7 585.9 L1600.3 587.3 L1600.8 588.7 L1601.4 590.1 L1601.9 591.5 L1602.5 592.9 L1603.1 594.3 L1603.6 595.6 L1604.2 597.0 L1604.8 598.4 L1605.5 599.7 L1606.1 601.1 L1606.7 602.4 L1607.4 603.8 L1608.0 605.1 L1608.7 606.5 L1609.4 607.8 L1610.1 609.1 L1610.8 610.4 L1611.6 611.7 L1612.3 613.0 L1613.0 614.3 L1613.8 615.6 L1614.6 616.9 L1615.4 618.2 L1616.2 619.5 L1617.0 620.7 L1617.8 622.0 L1618.6 623.2 L1619.5 624.5 L1620.3 625.7 L1621.2 627.0 L1622.0 628.2 L1622.9 629.4 L1623.8 630.7 L1624.7 631.9 L1625.6 633.1 L1626.5 634.3 L1627.4 635.5 L1628.3 636.7 L1629.2 637.9 L1630.1 639.1 L1631.1 640.2 L1632.0 641.4 L1633.0 642.6 L1633.9 643.8 L1634.8 644.9 L1635.8 646.1 L1636.8 647.2 L1637.7 648.3 L1638.7 649.5 L1639.7 650.6 L1640.7 651.7 L1641.7 652.8 L1642.7 653.8 L1643.8 654.9 L1644.8 655.9 L1645.9 656.9 L1647.0 657.9 L1648.1 658.9 L1649.2 659.8 L1650.4 660.8 L1651.5 661.7 L1652.8 662.5 L1654.0 663.4 L1655.2 664.2 L1656.5 665.0 L1657.8 665.7 L1659.2 666.5 L1660.5 667.2 L1661.9 667.8 L1663.3 668.5 L1664.6 669.2 L1666.0 670.0 L1667.3 670.7 L1668.6 671.5 L1669.8 672.4 L1670.9 673.3 L1672.0 674.3 L1673.1 675.3 L1674.1 676.4 L1675.0 677.5 L1676.0 678.7 L1676.9 679.8 L1677.9 681.1 L1678.8 682.3 L1679.7 683.5 L1680.7 684.8 L1681.6 686.0 L1682.6 687.3 L1683.6 688.4 L1684.7 689.6 L1685.7 690.7 L1686.9 691.7 L1688.0 692.6 L1689.2 693.4 L1690.5 694.1 L1691.8 694.6 L1693.2 695.1 L1694.6 695.5 L1696.1 695.8 L1697.5 696.0 L1699.0 696.3 L1700.5 696.5 L1702.0 696.7 L1703.5 697.0 L1705.0 697.3 L1706.4 697.6 L1707.9 698.0 L1709.2 698.6 L1710.6 699.2 L1712.0 699.8 L1713.3 700.5 L1714.6 701.2 L1715.9 702.0 L1717.2 702.8 L1718.5 703.6 L1719.8 704.4 L1721.0 705.2 L1722.3 706.0 L1723.6 706.8 L1725.0 707.5 L1726.3 708.2 L1727.6 708.9 L1729.0 709.5 L1730.4 710.0 L1731.8 710.6 L1733.2 711.1 L1734.6 711.5 L1736.0 712.0 L1737.4 712.3 L1738.9 712.7 L1740.3 713.0 L1741.8 713.3 L1743.3 713.6 L1744.7 713.8 L1746.2 714.0 L1747.7 714.2 L1749.2 714.4 L1750.7 714.5 L1752.1 714.7 L1753.6 714.8 L1755.1 714.8 L1756.6 714.9 L1758.1 714.9 L1759.6 715.0 L1761.1 715.0 L1762.6 715.0 L1764.1 715.0 L1765.6 715.0 L1767.1 715.0 L1768.6 714.9 L1770.2 714.9 L1771.7 714.9 L1773.2 714.8 L1774.7 714.8 L1776.2 714.7 L1777.7 714.7 L1779.2 714.7 L1780.7 714.7 L1782.2 714.6 L1783.7 714.6 L1785.2 714.6 L1786.7 714.6 L1788.2 714.7 L1789.7 714.7 L1791.2 714.7 L1792.7 714.8 L1794.2 714.9 L1795.7 715.0 L1797.2 715.1 L1798.7 715.3 L1800.1 715.5 L1801.6 715.7 L1803.1 715.9 L1804.6 716.1 L1806.1 716.4 L1807.5 716.7 L1809.0 716.9 L1810.5 717.2 L1811.9 717.6 L1813.4 717.9 L1814.9 718.2 L1816.3 718.5 L1817.8 718.8 L1819.2 719.1 L1820.7 719.4 L1822.2 719.7 L1823.6 720.0 L1825.1 720.2 L1826.6 720.5 L1828.1 720.7 L1829.5 721.0 L1831.0 721.2 L1832.5 721.4 L1833.9 721.6 L1835.4 721.8 L1836.9 721.9 L1838.4 722.1 L1839.8 722.3 L1841.3 722.4 L1842.8 722.6 L1844.3 722.7 L1845.8 722.8 L1847.3 722.9 L1848.7 723.0 L1850.2 723.1 L1851.7 723.2 L1853.2 723.3 L1854.7 723.4 L1856.2 723.5 L1857.7 723.6 L1859.2 723.6 L1860.7 723.7 L1862.2 723.7 L1863.6 723.8 L1865.1 723.8 L1866.6 723.9 L1868.1 723.9 L1869.6 724.0 L1871.1 724.0 L1872.6 724.0 L1874.1 724.1 L1875.6 724.1 L1877.1 724.1 L1878.6 724.1 L1880.1 724.1 L1881.6 724.2 L1883.1 724.2 L1884.6 724.2 L1886.1 724.2 L1887.6 724.2 L1889.1 724.2 L1890.6 724.2 L1892.1 724.3 L1893.6 724.3 L1895.1 724.3 L1896.6 724.3 L1898.1 724.3 L1899.6 724.3 L1901.1 724.4 L1902.6 724.4 L1904.1 724.4 L1905.6 724.4 L1907.1 724.5 L1908.6 724.5 L1910.1 724.5 L1911.6 724.6 L1913.1 724.6 L1914.6 724.6 L1916.1 724.7 L1917.6 724.7 L1919.1 724.7 L1920.6 724.8 L1922.1 724.8 L1923.6 724.9 L1925.1 724.9 L1926.6 725.0 L1928.1 725.0 L1929.6 725.1 L1931.1 725.1 L1932.5 725.1 L1934.0 725.2 L1935.5 725.2 L1937.0 725.3 L1938.5 725.3 L1940.0 725.4 L1941.5 725.4 L1943.0 725.5 L1944.5 725.5 L1946.0 725.6 L1947.5 725.6 L1949.0 725.7 L1950.5 725.7 L1952.0 725.8 L1953.5 725.8 L1955.0 725.9 L1956.5 725.9 L1957.9 725.9 L1959.4 726.0 L1960.9 726.0 L1962.4 726.1 L1963.9 726.1 L1965.4 726.1 L1966.9 726.2 L1968.4 726.2 L1969.9 726.3 L1971.4 726.3 L1972.9 726.3 L1974.4 726.4 L1975.9 726.4 L1977.4 726.4 L1978.9 726.4 L1980.4 726.5 L1981.9 726.5 L1983.4 726.5 L1984.9 726.6 L1986.4 726.6 L1987.9 726.6 L1989.4 726.6 L1990.9 726.7 L1992.4 726.7 L1993.9 726.7 L1995.3 726.7 L1996.8 726.8 L1998.3 726.8 L1999.8 726.8 L2001.3 726.8 L2002.8 726.8 L2004.3 726.9 L2005.8 726.9 L2007.3 726.9 L2008.8 726.9 L2010.3 726.9 L2011.8 726.9 L2013.3 727.0 L2014.8 727.0 L2016.3 727.0 L2017.8 727.0 L2019.3 727.0 L2020.8 727.0 L2022.3 727.0 L2023.8 727.1 L2025.3 727.1 L2026.8 727.1 L2028.3 727.1 L2029.8 727.1 L2031.3 727.1 L2032.8 727.1 L2034.3 727.1 L2035.8 727.1 L2037.3 727.1 L2038.8 727.1 L2040.3 727.2 L2041.8 727.2 L2043.3 727.2 L2044.8 727.2 L2046.3 727.2 L2047.8 727.2 L2049.3 727.2 L2050.8 727.2 L2052.3 727.2 L2053.8 727.2 L2055.3 727.2 L2056.8 727.2 L2058.3 727.2 L2059.8 727.2 L2061.3 727.2 L2062.8 727.2 L2064.3 727.2 L2065.8 727.2 L2067.3 727.2 L2068.8 727.2 L2070.3 727.2 L2071.8 727.2 L2073.3 727.2 L2074.8 727.2 L2076.3 727.2 L2077.8 727.3 L2079.3 727.3 L2080.8 727.3 L2082.3 727.3 L2083.8 727.3 L2085.3 727.3 L2086.8 727.3 L2088.3 727.3 L2089.8 727.3 L2091.3 727.3 L2092.8 727.3 L2094.3 727.3 L2095.8 727.3 L2097.3 727.3 L2098.8 727.3 L2100.3 727.3 L2101.8 727.3 L2103.3 727.3 L2104.8 727.3 L2106.3 727.3 L2107.8 727.3 L2109.3 727.3 L2110.8 727.3 L2112.3 727.3 L2113.8 727.3 L2115.3 727.3 L2116.8 727.3 L2118.3 727.3 L2119.8 727.3 L2121.3 727.3 L2122.8 727.3 L2124.3 727.3 L2125.8 727.3 L2127.3 727.3 L2128.8 727.3 L2130.3 727.3 L2131.8 727.3 L2133.3 727.3 L2134.8 727.3 L2136.3 727.3 L2137.8 727.3 L2139.3 727.3 L2140.8 727.3 L2142.3 727.4 L2143.8 727.4 L2145.3 727.4 L2146.8 727.4 L2148.3 727.4 L2149.8 727.4 L2151.3 727.4 L2152.8 727.4 L2154.3 727.4 L2155.8 727.4 L2157.3 727.4 L2158.8 727.4 L2160.3 727.4 L2161.8 727.4 L2163.3 727.4 L2164.8 727.4 L2166.3 727.4 L2167.8 727.4 L2169.3 727.4 L2170.8 727.5 L2172.3 727.5 L2173.8 727.5 L2175.3 727.5 L2176.8 727.5 L2178.3 727.5 L2179.8 727.5 L2181.3 727.5 L2182.8 727.5 L2184.3 727.5 L2185.8 727.5 L2187.3 727.5 L2188.8 727.5 L2190.3 727.5 L2191.8 727.5 L2193.3 727.5 L2194.8 727.5 L2196.3 727.5 L2197.8 727.5 L2199.3 727.5 L2200.8 727.5 L2202.3 727.5 L2203.8 727.5 L2205.3 727.5 L2206.8 727.6 L2208.3 727.6 L2209.8 727.6 L2211.3 727.6 L2212.8 727.6 L2214.3 727.6 L2215.8 727.6 L2217.3 727.6 L2218.8 727.6 L2220.3 727.6 L2221.8 727.6 L2223.3 727.6 L2224.8 727.6 L2226.3 727.6 L2227.8 727.6 L2229.3 727.6 L2230.8 727.6 L2232.3 727.6 L2233.8 727.6 L2235.3 727.6 L2236.8 727.6 L2238.3 727.6 L2239.8 727.6 L2241.3 727.6 L2242.8 727.6 L2244.3 727.6 L2245.8 727.5 L2247.3 727.5 L2248.8 727.5 L2250.3 727.5 L2251.8 727.5 L2253.3 727.5 L2254.7 727.5 L2256.2 727.5 L2257.7 727.5 L2259.2 727.5 L2260.7 727.5 L2262.2 727.5 L2263.7 727.5 L2265.2 727.5 L2266.7 727.5 L2268.2 727.5 L2269.7 727.4 L2271.2 727.4 L2272.7 727.4 L2274.2 727.4 L2275.7 727.4 L2277.2 727.4 L2278.7 727.4 L2280.2 727.4 L2281.7 727.4 L2283.2 727.3 L2284.7 727.3 L2286.2 727.3 L2287.7 727.3 L2289.2 727.3 L2290.7 727.3 L2292.2 727.3 L2293.7 727.2 L2295.2 727.2 L2296.7 727.2 L2298.2 727.2 L2299.7 727.2 L2301.2 727.2 L2302.7 727.1 L2304.2 727.1 L2305.7 727.1 L2307.2 727.1 L2308.7 727.1 L2310.2 727.0 L2311.7 727.0 L2313.2 727.0 L2314.7 727.0 L2316.2 726.9 L2317.7 726.9 L2319.2 726.9 L2320.7 726.9 L2322.2 726.8 L2323.7 726.8 L2325.2 726.8 L2326.7 726.8 L2328.2 726.7 L2329.7 726.7 L2331.2 726.7 L2332.7 726.6 L2334.2 726.6 L2335.7 726.6 L2337.2 726.5 L2338.7 726.5 L2340.2 726.5 L2341.7 726.4 L2343.2 726.4 L2344.7 726.4 L2346.2 726.3 L2347.7 726.3 L2349.2 726.2 L2350.7 726.2 L2352.2 726.2 L2353.7 726.1 L2354.7 726.1" fill="none" stroke="#2a2eec" stroke-width="4.17" stroke-linecap="round" stroke-linejoin="round"/>
<rect x="1389.1" y="712" width="260.8" height="8" fill="#000000"/>
<line x1="1510.18" x2="1510.18" y1="724.95" y2="277.10" stroke="#fa7c17" stroke-opacity="0.65" stroke-width="4.17" stroke-linecap="round"/>
<text transform="translate(1230.97,685.03) scale(1.0689,1)" font-size="44.15" fill="#262626">0.0066</text>
<text transform="translate(1664.06,685.03) scale(1.0625,1)" font-size="44.15" fill="#262626">0.56</text>
<text transform="translate(1429.22,544.30) scale(1.0253,1)" font-size="44.15" fill="#262626">94% HDI</text>
<text transform="translate(1396.33,238.96) scale(1.1008,1)" font-size="44.15" fill="#262626">mean=0.28</text>
<text transform="translate(1216.95,360.74) scale(1.1851,1)" font-size="44.15" font-weight="bold" fill="#fa7c17">53.2% &lt;0.264206&lt; 46.8%</text>
<text transform="translate(1364.94,796.70) scale(1.0282,1)" font-size="30.02" fill="#262626">0.0</text>
<text transform="translate(1599.95,796.70) scale(1.0157,1)" font-size="30.02" fill="#262626">0.5</text>
<text transform="translate(1834.02,796.70) scale(1.0263,1)" font-size="30.02" fill="#262626">1.0</text>
<text transform="translate(2068.05,796.70) scale(1.0134,1)" font-size="30.02" fill="#262626">1.5</text>
<text transform="translate(2301.79,796.70) scale(1.0318,1)" font-size="30.02" fill="#262626">2.0</text>
<text transform="translate(1697.49,53.80) scale(1.0596,1)" font-size="47.09" fill="#262626">saturation_beta</text>
<text transform="translate(1763.71,106.10) scale(1.0389,1)" font-size="47.09" fill="#262626">x1, geo_b</text>
</g>
<g id="BL">
<rect x="127" y="916" width="1064" height="641" fill="#eeeeee"/>
<rect x="173" y="916" width="2" height="641" fill="#ffffff"/>
<rect x="332" y="916" width="2" height="641" fill="#ffffff"/>
<rect x="492" y="916" width="2" height="641" fill="#ffffff"/>
<rect x="651" y="916" width="2" height="641" fill="#ffffff"/>
<rect x="811" y="916" width="2" height="641" fill="#ffffff"/>
<rect x="970" y="916" width="2" height="641" fill="#ffffff"/>
<rect x="1130" y="916" width="2" height="641" fill="#ffffff"/>
<rect x="173" y="1557.7" width="3" height="7.8" fill="#8a8a8a"/>
<rect x="332" y="1557.7" width="3" height="7.8" fill="#8a8a8a"/>
<rect x="492" y="1557.7" width="3" height="7.8" fill="#8a8a8a"/>
<rect x="651" y="1557.7" width="3" height="7.8" fill="#8a8a8a"/>
<rect x="811" y="1557.7" width="3" height="7.8" fill="#8a8a8a"/>
<rect x="970" y="1557.7" width="3" height="7.8" fill="#8a8a8a"/>
<rect x="1130" y="1557.7" width="3" height="7.8" fill="#8a8a8a"/>
<path d="M175.4 1392.8 L176.9 1392.3 L178.3 1391.7 L179.6 1391.0 L180.9 1390.2 L182.0 1389.4 L183.1 1388.4 L184.2 1387.4 L185.1 1386.3 L186.1 1385.2 L187.0 1384.0 L187.8 1382.8 L188.6 1381.5 L189.4 1380.2 L190.2 1378.9 L190.9 1377.6 L191.7 1376.3 L192.5 1374.9 L193.2 1373.6 L194.0 1372.3 L194.7 1371.0 L195.5 1369.7 L196.2 1368.4 L197.0 1367.1 L197.7 1365.8 L198.4 1364.4 L199.2 1363.1 L199.9 1361.8 L200.6 1360.5 L201.3 1359.2 L202.1 1357.9 L202.8 1356.6 L203.5 1355.2 L204.2 1353.9 L204.9 1352.6 L205.6 1351.3 L206.2 1349.9 L206.9 1348.6 L207.6 1347.2 L208.2 1345.9 L208.9 1344.6 L209.6 1343.2 L210.2 1341.9 L210.8 1340.5 L211.5 1339.1 L212.1 1337.8 L212.7 1336.4 L213.3 1335.1 L213.9 1333.7 L214.6 1332.3 L215.1 1330.9 L215.7 1329.6 L216.3 1328.2 L216.9 1326.8 L217.5 1325.4 L218.1 1324.0 L218.6 1322.6 L219.2 1321.3 L219.7 1319.9 L220.3 1318.5 L220.8 1317.1 L221.4 1315.7 L221.9 1314.3 L222.5 1312.9 L223.0 1311.5 L223.5 1310.1 L224.0 1308.7 L224.5 1307.3 L225.0 1305.8 L225.5 1304.4 L226.0 1303.0 L226.5 1301.6 L227.0 1300.2 L227.5 1298.8 L228.0 1297.3 L228.5 1295.9 L228.9 1294.5 L229.4 1293.1 L229.9 1291.6 L230.3 1290.2 L230.8 1288.8 L231.2 1287.4 L231.7 1285.9 L232.1 1284.5 L232.6 1283.1 L233.0 1281.6 L233.5 1280.2 L233.9 1278.7 L234.3 1277.3 L234.7 1275.9 L235.1 1274.4 L235.6 1273.0 L236.0 1271.5 L236.4 1270.1 L236.8 1268.7 L237.2 1267.2 L237.6 1265.8 L238.0 1264.3 L238.4 1262.9 L238.8 1261.4 L239.1 1260.0 L239.5 1258.5 L239.9 1257.1 L240.3 1255.6 L240.7 1254.2 L241.0 1252.7 L241.4 1251.3 L241.8 1249.8 L242.1 1248.4 L242.5 1246.9 L242.8 1245.5 L243.2 1244.0 L243.6 1242.5 L243.9 1241.1 L244.3 1239.6 L244.6 1238.2 L244.9 1236.7 L245.3 1235.3 L245.6 1233.8 L246.0 1232.3 L246.3 1230.9 L246.6 1229.4 L247.0 1227.9 L247.3 1226.5 L247.6 1225.0 L248.0 1223.6 L248.3 1222.1 L248.6 1220.6 L248.9 1219.2 L249.3 1217.7 L249.6 1216.2 L249.9 1214.8 L250.2 1213.3 L250.5 1211.8 L250.8 1210.4 L251.2 1208.9 L251.5 1207.4 L251.8 1206.0 L252.1 1204.5 L252.4 1203.0 L252.7 1201.6 L253.0 1200.1 L253.3 1198.6 L253.6 1197.2 L253.9 1195.7 L254.2 1194.2 L254.5 1192.7 L254.8 1191.3 L255.1 1189.8 L255.4 1188.3 L255.8 1186.9 L256.1 1185.4 L256.4 1183.9 L256.7 1182.5 L257.0 1181.0 L257.3 1179.5 L257.6 1178.0 L257.9 1176.6 L258.2 1175.1 L258.5 1173.6 L258.8 1172.2 L259.1 1170.7 L259.4 1169.2 L259.7 1167.8 L260.0 1166.3 L260.3 1164.8 L260.6 1163.3 L260.9 1161.9 L261.2 1160.4 L261.5 1158.9 L261.8 1157.5 L262.1 1156.0 L262.4 1154.5 L262.7 1153.1 L263.0 1151.6 L263.4 1150.1 L263.7 1148.7 L264.0 1147.2 L264.3 1145.7 L264.6 1144.2 L264.9 1142.8 L265.2 1141.3 L265.6 1139.8 L265.9 1138.4 L266.2 1136.9 L266.5 1135.5 L266.9 1134.0 L267.2 1132.5 L267.5 1131.1 L267.8 1129.6 L268.2 1128.1 L268.5 1126.7 L268.8 1125.2 L269.2 1123.7 L269.5 1122.3 L269.8 1120.8 L270.2 1119.4 L270.5 1117.9 L270.8 1116.4 L271.2 1115.0 L271.5 1113.5 L271.8 1112.0 L272.2 1110.6 L272.5 1109.1 L272.8 1107.7 L273.2 1106.2 L273.5 1104.7 L273.9 1103.3 L274.2 1101.8 L274.5 1100.4 L274.9 1098.9 L275.2 1097.4 L275.6 1096.0 L275.9 1094.5 L276.3 1093.1 L276.6 1091.6 L276.9 1090.1 L277.3 1088.7 L277.6 1087.2 L278.0 1085.8 L278.3 1084.3 L278.7 1082.8 L279.0 1081.4 L279.3 1079.9 L279.7 1078.5 L280.0 1077.0 L280.4 1075.5 L280.7 1074.1 L281.1 1072.6 L281.4 1071.2 L281.7 1069.7 L282.1 1068.2 L282.4 1066.8 L282.8 1065.3 L283.1 1063.9 L283.4 1062.4 L283.8 1060.9 L284.1 1059.5 L284.5 1058.0 L284.8 1056.6 L285.1 1055.1 L285.5 1053.6 L285.8 1052.2 L286.1 1050.7 L286.5 1049.3 L286.8 1047.8 L287.2 1046.3 L287.5 1044.9 L287.8 1043.4 L288.2 1042.0 L288.5 1040.5 L288.9 1039.0 L289.2 1037.6 L289.5 1036.1 L289.9 1034.7 L290.2 1033.2 L290.6 1031.7 L290.9 1030.3 L291.3 1028.8 L291.6 1027.4 L291.9 1025.9 L292.3 1024.4 L292.6 1023.0 L293.0 1021.5 L293.3 1020.1 L293.7 1018.6 L294.1 1017.2 L294.4 1015.7 L294.8 1014.3 L295.1 1012.8 L295.5 1011.3 L295.8 1009.9 L296.2 1008.4 L296.6 1007.0 L296.9 1005.5 L297.3 1004.1 L297.7 1002.6 L298.1 1001.2 L298.4 999.7 L298.8 998.3 L299.2 996.8 L299.6 995.4 L300.0 993.9 L300.3 992.5 L300.7 991.0 L301.1 989.6 L301.5 988.1 L301.9 986.7 L302.3 985.2 L302.7 983.8 L303.1 982.4 L303.6 980.9 L304.0 979.5 L304.5 978.1 L304.9 976.6 L305.4 975.2 L305.9 973.8 L306.4 972.4 L307.0 971.0 L307.5 969.6 L308.1 968.2 L308.7 966.8 L309.4 965.5 L310.0 964.1 L310.7 962.7 L311.5 961.4 L312.2 960.1 L313.0 958.8 L313.9 957.5 L314.7 956.2 L315.7 954.9 L316.6 953.8 L317.7 952.7 L318.8 951.7 L320.0 950.9 L321.3 950.3 L322.6 949.8 L324.1 949.5 L325.5 949.3 L327.0 949.2 L328.6 949.2 L330.1 949.3 L331.6 949.3 L333.1 949.3 L334.7 949.3 L336.1 949.2 L337.6 949.0 L339.1 948.7 L340.5 948.3 L341.9 947.9 L343.4 947.4 L344.8 946.9 L346.3 946.5 L347.8 946.1 L349.3 945.8 L350.8 945.6 L352.3 945.5 L353.7 945.5 L355.2 945.7 L356.6 946.0 L358.0 946.5 L359.3 947.1 L360.5 947.9 L361.7 948.9 L362.9 949.9 L364.0 951.0 L365.0 952.1 L366.0 953.2 L367.0 954.4 L368.0 955.6 L368.9 956.8 L369.8 958.0 L370.7 959.2 L371.5 960.5 L372.3 961.7 L373.1 963.0 L373.8 964.3 L374.6 965.6 L375.3 967.0 L375.9 968.3 L376.6 969.7 L377.2 971.0 L377.9 972.4 L378.5 973.8 L379.1 975.2 L379.6 976.6 L380.2 978.0 L380.7 979.4 L381.2 980.8 L381.7 982.2 L382.3 983.7 L382.7 985.1 L383.2 986.5 L383.7 988.0 L384.2 989.4 L384.6 990.8 L385.1 992.3 L385.5 993.7 L386.0 995.1 L386.4 996.6 L386.8 998.0 L387.2 999.5 L387.6 1000.9 L388.1 1002.4 L388.5 1003.8 L388.8 1005.2 L389.2 1006.7 L389.6 1008.1 L390.0 1009.6 L390.4 1011.0 L390.8 1012.5 L391.1 1013.9 L391.5 1015.4 L391.8 1016.8 L392.2 1018.3 L392.6 1019.7 L392.9 1021.2 L393.3 1022.7 L393.6 1024.1 L393.9 1025.6 L394.3 1027.0 L394.6 1028.5 L395.0 1029.9 L395.3 1031.4 L395.6 1032.8 L396.0 1034.3 L396.3 1035.8 L396.6 1037.2 L397.0 1038.7 L397.3 1040.1 L397.6 1041.6 L397.9 1043.0 L398.3 1044.5 L398.6 1046.0 L398.9 1047.4 L399.3 1048.9 L399.6 1050.3 L399.9 1051.8 L400.3 1053.3 L400.6 1054.7 L401.0 1056.2 L401.3 1057.6 L401.6 1059.1 L402.0 1060.5 L402.3 1062.0 L402.7 1063.5 L403.0 1064.9 L403.4 1066.4 L403.7 1067.8 L404.1 1069.3 L404.4 1070.7 L404.8 1072.2 L405.1 1073.7 L405.5 1075.1 L405.8 1076.6 L406.2 1078.0 L406.6 1079.5 L406.9 1080.9 L407.3 1082.4 L407.6 1083.9 L408.0 1085.3 L408.4 1086.8 L408.7 1088.2 L409.1 1089.7 L409.4 1091.1 L409.8 1092.6 L410.2 1094.0 L410.5 1095.5 L410.9 1097.0 L411.3 1098.4 L411.6 1099.9 L412.0 1101.3 L412.3 1102.8 L412.7 1104.2 L413.1 1105.7 L413.4 1107.2 L413.8 1108.6 L414.2 1110.1 L414.5 1111.5 L414.9 1113.0 L415.3 1114.4 L415.6 1115.9 L416.0 1117.4 L416.3 1118.8 L416.7 1120.3 L417.1 1121.7 L417.4 1123.2 L417.8 1124.6 L418.1 1126.1 L418.5 1127.6 L418.8 1129.0 L419.2 1130.5 L419.6 1131.9 L419.9 1133.4 L420.3 1134.9 L420.6 1136.3 L421.0 1137.8 L421.3 1139.2 L421.7 1140.7 L422.0 1142.2 L422.4 1143.6 L422.7 1145.1 L423.1 1146.5 L423.4 1148.0 L423.8 1149.5 L424.1 1150.9 L424.4 1152.4 L424.8 1153.8 L425.1 1155.3 L425.5 1156.8 L425.8 1158.2 L426.2 1159.7 L426.5 1161.1 L426.9 1162.6 L427.2 1164.1 L427.6 1165.5 L427.9 1167.0 L428.2 1168.4 L428.6 1169.9 L428.9 1171.4 L429.3 1172.8 L429.6 1174.3 L430.0 1175.7 L430.3 1177.2 L430.7 1178.7 L431.0 1180.1 L431.4 1181.6 L431.7 1183.0 L432.1 1184.5 L432.4 1185.9 L432.8 1187.4 L433.1 1188.9 L433.5 1190.3 L433.8 1191.8 L434.2 1193.2 L434.5 1194.7 L434.9 1196.1 L435.2 1197.6 L435.6 1199.1 L435.9 1200.5 L436.3 1202.0 L436.6 1203.4 L437.0 1204.9 L437.4 1206.3 L437.7 1207.8 L438.1 1209.2 L438.5 1210.7 L438.8 1212.2 L439.2 1213.6 L439.6 1215.1 L439.9 1216.5 L440.3 1218.0 L440.7 1219.4 L441.0 1220.9 L441.4 1222.3 L441.8 1223.8 L442.2 1225.2 L442.5 1226.7 L442.9 1228.1 L443.3 1229.6 L443.7 1231.0 L444.1 1232.5 L444.5 1233.9 L444.9 1235.4 L445.2 1236.8 L445.6 1238.3 L446.0 1239.7 L446.4 1241.2 L446.8 1242.6 L447.2 1244.0 L447.6 1245.5 L448.0 1246.9 L448.4 1248.4 L448.9 1249.8 L449.3 1251.3 L449.7 1252.7 L450.1 1254.1 L450.5 1255.6 L450.9 1257.0 L451.4 1258.5 L451.8 1259.9 L452.2 1261.3 L452.6 1262.8 L453.1 1264.2 L453.5 1265.6 L454.0 1267.1 L454.4 1268.5 L454.8 1269.9 L455.3 1271.4 L455.8 1272.8 L456.2 1274.2 L456.7 1275.7 L457.1 1277.1 L457.6 1278.5 L458.1 1279.9 L458.5 1281.3 L459.0 1282.8 L459.5 1284.2 L460.0 1285.6 L460.5 1287.0 L461.0 1288.4 L461.5 1289.8 L462.0 1291.2 L462.5 1292.7 L463.0 1294.1 L463.5 1295.5 L464.1 1296.9 L464.6 1298.3 L465.1 1299.7 L465.7 1301.1 L466.2 1302.4 L466.8 1303.8 L467.3 1305.2 L467.9 1306.6 L468.5 1308.0 L469.1 1309.4 L469.6 1310.7 L470.2 1312.1 L470.8 1313.5 L471.4 1314.9 L472.0 1316.2 L472.7 1317.6 L473.3 1318.9 L473.9 1320.3 L474.5 1321.6 L475.2 1323.0 L475.8 1324.3 L476.5 1325.7 L477.2 1327.0 L477.8 1328.4 L478.5 1329.7 L479.2 1331.0 L479.9 1332.3 L480.6 1333.7 L481.3 1335.0 L482.0 1336.3 L482.8 1337.6 L483.5 1338.9 L484.2 1340.2 L485.0 1341.5 L485.7 1342.8 L486.4 1344.1 L487.2 1345.4 L487.9 1346.7 L488.7 1348.0 L489.5 1349.3 L490.2 1350.6 L491.0 1351.9 L491.7 1353.2 L492.5 1354.5 L493.3 1355.8 L494.0 1357.1 L494.8 1358.4 L495.5 1359.7 L496.3 1361.0 L497.0 1362.3 L497.8 1363.6 L498.5 1365.0 L499.3 1366.3 L500.0 1367.6 L500.7 1368.9 L501.5 1370.2 L502.2 1371.5 L502.9 1372.9 L503.6 1374.2 L504.3 1375.5 L505.0 1376.9 L505.7 1378.2 L506.4 1379.5 L507.0 1380.9 L507.7 1382.2 L508.4 1383.6 L509.0 1385.0 L509.7 1386.3 L510.3 1387.7 L511.0 1389.0 L511.7 1390.4 L512.4 1391.7 L513.1 1393.0 L513.8 1394.3 L514.5 1395.6 L515.2 1396.9 L516.0 1398.2 L516.7 1399.5 L517.5 1400.8 L518.2 1402.1 L519.0 1403.4 L519.8 1404.6 L520.6 1405.9 L521.4 1407.2 L522.2 1408.4 L523.0 1409.7 L523.8 1410.9 L524.6 1412.1 L525.5 1413.3 L526.3 1414.6 L527.2 1415.8 L528.0 1417.0 L528.9 1418.2 L529.8 1419.4 L530.7 1420.6 L531.5 1421.8 L532.4 1423.0 L533.3 1424.2 L534.3 1425.4 L535.2 1426.5 L536.1 1427.7 L537.0 1428.9 L538.0 1430.0 L538.9 1431.2 L539.8 1432.3 L540.8 1433.5 L541.7 1434.6 L542.7 1435.8 L543.7 1436.9 L544.7 1438.1 L545.6 1439.2 L546.6 1440.3 L547.6 1441.5 L548.6 1442.6 L549.6 1443.7 L550.6 1444.9 L551.6 1446.0 L552.6 1447.1 L553.6 1448.2 L554.6 1449.3 L555.7 1450.4 L556.7 1451.5 L557.7 1452.7 L558.7 1453.8 L559.8 1454.9 L560.8 1456.0 L561.8 1457.1 L562.9 1458.2 L563.9 1459.3 L565.0 1460.4 L566.0 1461.5 L567.1 1462.6 L568.1 1463.7 L569.2 1464.8 L570.3 1465.8 L571.3 1466.9 L572.4 1468.0 L573.5 1469.1 L574.5 1470.1 L575.6 1471.2 L576.7 1472.3 L577.8 1473.3 L578.9 1474.3 L580.0 1475.4 L581.1 1476.4 L582.2 1477.4 L583.4 1478.4 L584.5 1479.4 L585.6 1480.4 L586.8 1481.4 L587.9 1482.3 L589.1 1483.3 L590.2 1484.2 L591.4 1485.2 L592.6 1486.1 L593.8 1487.0 L595.0 1487.9 L596.2 1488.7 L597.4 1489.6 L598.6 1490.4 L599.8 1491.3 L601.0 1492.1 L602.3 1492.9 L603.5 1493.7 L604.8 1494.4 L606.1 1495.2 L607.3 1495.9 L608.6 1496.6 L609.9 1497.3 L611.3 1497.9 L612.6 1498.6 L613.9 1499.2 L615.3 1499.8 L616.6 1500.4 L618.0 1500.9 L619.4 1501.5 L620.7 1502.0 L622.1 1502.5 L623.6 1502.9 L625.0 1503.4 L626.4 1503.8 L627.9 1504.2 L629.3 1504.5 L630.8 1504.9 L632.3 1505.3 L633.8 1505.6 L635.2 1505.9 L636.7 1506.2 L638.2 1506.5 L639.7 1506.8 L641.2 1507.0 L642.8 1507.3 L644.3 1507.6 L645.8 1507.8 L647.3 1508.1 L648.8 1508.3 L650.3 1508.6 L651.8 1508.8 L653.4 1509.1 L654.9 1509.3 L656.4 1509.6 L657.9 1509.8 L659.4 1510.1 L660.9 1510.4 L662.4 1510.7 L663.8 1511.0 L665.3 1511.3 L666.8 1511.7 L668.2 1512.0 L669.7 1512.4 L671.1 1512.7 L672.6 1513.1 L674.0 1513.5 L675.4 1513.9 L676.8 1514.3 L678.3 1514.6 L679.7 1515.0 L681.1 1515.4 L682.5 1515.8 L683.9 1516.2 L685.4 1516.6 L686.8 1517.0 L688.2 1517.4 L689.6 1517.7 L691.0 1518.1 L692.5 1518.5 L693.9 1518.8 L695.3 1519.1 L696.8 1519.4 L698.2 1519.7 L699.7 1520.0 L701.1 1520.3 L702.6 1520.5 L704.1 1520.8 L705.6 1521.0 L707.0 1521.2 L708.5 1521.4 L710.0 1521.5 L711.5 1521.7 L713.0 1521.8 L714.5 1521.9 L716.0 1522.0 L717.5 1522.1 L719.0 1522.2 L720.5 1522.3 L722.1 1522.3 L723.6 1522.4 L725.1 1522.4 L726.6 1522.5 L728.1 1522.5 L729.6 1522.5 L731.1 1522.5 L732.6 1522.5 L734.1 1522.5 L735.6 1522.4 L737.1 1522.4 L738.6 1522.4 L740.1 1522.4 L741.6 1522.4 L743.1 1522.3 L744.6 1522.3 L746.1 1522.3 L747.6 1522.3 L749.1 1522.3 L750.5 1522.3 L752.0 1522.3 L753.5 1522.3 L755.0 1522.4 L756.5 1522.4 L758.0 1522.5 L759.5 1522.5 L761.0 1522.6 L762.5 1522.7 L764.0 1522.8 L765.5 1522.9 L767.0 1523.0 L768.5 1523.1 L769.9 1523.3 L771.4 1523.4 L772.9 1523.5 L774.4 1523.7 L775.9 1523.8 L777.4 1523.9 L778.9 1524.1 L780.4 1524.2 L781.9 1524.3 L783.4 1524.5 L784.9 1524.6 L786.4 1524.7 L787.8 1524.8 L789.3 1524.9 L790.8 1525.0 L792.3 1525.1 L793.8 1525.2 L795.3 1525.3 L796.8 1525.3 L798.3 1525.4 L799.8 1525.4 L801.3 1525.5 L802.8 1525.5 L804.3 1525.5 L805.8 1525.5 L807.3 1525.5 L808.8 1525.5 L810.3 1525.4 L811.8 1525.4 L813.3 1525.4 L814.8 1525.3 L816.3 1525.3 L817.8 1525.2 L819.3 1525.2 L820.8 1525.1 L822.3 1525.1 L823.8 1525.0 L825.3 1524.9 L826.8 1524.9 L828.3 1524.8 L829.8 1524.7 L831.3 1524.7 L832.8 1524.6 L834.3 1524.5 L835.8 1524.5 L837.3 1524.4 L838.8 1524.3 L840.3 1524.3 L841.8 1524.2 L843.3 1524.1 L844.8 1524.1 L846.3 1524.0 L847.8 1524.0 L849.3 1524.0 L850.8 1523.9 L852.3 1523.9 L853.8 1523.9 L855.3 1523.9 L856.8 1523.9 L858.3 1523.9 L859.8 1523.9 L861.3 1523.9 L862.8 1523.9 L864.3 1524.0 L865.8 1524.0 L867.3 1524.1 L868.8 1524.1 L870.3 1524.2 L871.8 1524.3 L873.3 1524.3 L874.8 1524.4 L876.3 1524.5 L877.8 1524.6 L879.3 1524.7 L880.8 1524.7 L882.3 1524.8 L883.8 1524.9 L885.3 1525.0 L886.7 1525.1 L888.2 1525.2 L889.7 1525.3 L891.2 1525.4 L892.7 1525.5 L894.2 1525.6 L895.7 1525.7 L897.2 1525.8 L898.7 1525.9 L900.2 1526.0 L901.7 1526.1 L903.2 1526.1 L904.7 1526.2 L906.2 1526.3 L907.7 1526.3 L909.2 1526.4 L910.7 1526.5 L912.2 1526.5 L913.7 1526.6 L915.2 1526.6 L916.7 1526.6 L918.2 1526.6 L919.7 1526.6 L921.2 1526.6 L922.7 1526.6 L924.2 1526.6 L925.7 1526.6 L927.2 1526.5 L928.7 1526.5 L930.2 1526.4 L931.7 1526.4 L933.2 1526.3 L934.7 1526.2 L936.2 1526.1 L937.7 1526.0 L939.2 1525.9 L940.7 1525.9 L942.2 1525.8 L943.7 1525.7 L945.2 1525.6 L946.7 1525.6 L948.2 1525.5 L949.6 1525.5 L951.1 1525.5 L952.6 1525.5 L954.1 1525.5 L955.6 1525.5 L957.1 1525.6 L958.6 1525.7 L960.1 1525.8 L961.6 1525.9 L963.1 1526.1 L964.6 1526.2 L966.1 1526.4 L967.6 1526.6 L969.1 1526.7 L970.6 1526.9 L972.1 1527.1 L973.6 1527.2 L975.1 1527.3 L976.6 1527.5 L978.1 1527.6 L979.6 1527.7 L981.1 1527.8 L982.6 1527.8 L984.1 1527.9 L985.6 1528.0 L987.1 1528.0 L988.6 1528.0 L990.1 1528.1 L991.6 1528.1 L993.1 1528.1 L994.6 1528.1 L996.1 1528.1 L997.6 1528.0 L999.1 1528.0 L1000.6 1528.0 L1002.1 1528.0 L1003.6 1527.9 L1005.1 1527.9 L1006.6 1527.8 L1008.1 1527.8 L1009.6 1527.7 L1011.1 1527.6 L1012.6 1527.6 L1014.1 1527.5 L1015.6 1527.4 L1017.1 1527.4 L1018.6 1527.3 L1020.1 1527.2 L1021.6 1527.2 L1023.1 1527.1 L1024.6 1527.0 L1026.1 1527.0 L1027.6 1526.9 L1029.1 1526.9 L1030.6 1526.8 L1032.1 1526.8 L1033.6 1526.7 L1035.1 1526.7 L1036.6 1526.6 L1038.1 1526.6 L1039.6 1526.6 L1041.1 1526.6 L1042.5 1526.5 L1044.0 1526.5 L1045.5 1526.5 L1047.0 1526.5 L1048.5 1526.5 L1050.0 1526.5 L1051.5 1526.5 L1053.0 1526.5 L1054.5 1526.6 L1056.0 1526.6 L1057.5 1526.6 L1059.0 1526.6 L1060.5 1526.6 L1062.0 1526.7 L1063.5 1526.7 L1065.0 1526.7 L1066.5 1526.8 L1068.0 1526.8 L1069.5 1526.8 L1071.0 1526.9 L1072.5 1526.9 L1074.0 1527.0 L1075.5 1527.0 L1077.0 1527.0 L1078.5 1527.1 L1080.0 1527.1 L1081.5 1527.1 L1083.0 1527.2 L1084.5 1527.2 L1086.0 1527.3 L1087.5 1527.3 L1089.0 1527.3 L1090.5 1527.4 L1092.0 1527.4 L1093.5 1527.4 L1095.0 1527.4 L1096.5 1527.5 L1098.0 1527.5 L1099.5 1527.5 L1101.0 1527.5 L1102.5 1527.5 L1104.0 1527.5 L1105.5 1527.5 L1107.0 1527.5 L1108.5 1527.5 L1110.0 1527.5 L1111.5 1527.5 L1113.0 1527.5 L1114.5 1527.5 L1116.0 1527.5 L1117.5 1527.4 L1119.0 1527.4 L1120.5 1527.4 L1122.0 1527.3 L1123.5 1527.3 L1125.0 1527.2 L1126.5 1527.1 L1128.0 1527.1 L1129.5 1527.0 L1131.0 1526.9 L1132.5 1526.8 L1134.0 1526.7 L1135.5 1526.6 L1137.0 1526.5 L1138.5 1526.4 L1140.0 1526.2 L1141.5 1526.1 L1142.6 1526.0" fill="none" stroke="#2a2eec" stroke-width="4.17" stroke-linecap="round" stroke-linejoin="round"/>
<rect x="177.0" y="1512" width="350.0" height="8" fill="#000000"/>
<line x1="271.65" x2="271.65" y1="1524.95" y2="1077.10" stroke="#fa7c17" stroke-opacity="0.65" stroke-width="4.17" stroke-linecap="round"/>
<text transform="translate(45.39,1485.03) scale(1.0627,1)" font-size="44.15" fill="#262626">0.004</text>
<text transform="translate(541.17,1485.03) scale(1.0576,1)" font-size="44.15" fill="#262626">0.44</text>
<text transform="translate(261.72,1344.30) scale(1.0253,1)" font-size="44.15" fill="#262626">94% HDI</text>
<text transform="translate(239.03,1038.96) scale(1.1000,1)" font-size="44.15" fill="#262626">mean=0.24</text>
<text transform="translate(59.45,1160.74) scale(1.1855,1)" font-size="44.15" font-weight="bold" fill="#fa7c17">17.4% &lt;0.122572&lt; 82.6%</text>
<text transform="translate(152.94,1596.70) scale(1.0282,1)" font-size="30.02" fill="#262626">0.0</text>
<text transform="translate(311.96,1596.70) scale(1.0131,1)" font-size="30.02" fill="#262626">0.2</text>
<text transform="translate(471.94,1596.70) scale(1.0278,1)" font-size="30.02" fill="#262626">0.4</text>
<text transform="translate(630.93,1596.70) scale(1.0345,1)" font-size="30.02" fill="#262626">0.6</text>
<text transform="translate(790.94,1596.70) scale(1.0302,1)" font-size="30.02" fill="#262626">0.8</text>
<text transform="translate(950.02,1596.70) scale(1.0263,1)" font-size="30.02" fill="#262626">1.0</text>
<text transform="translate(1110.05,1596.70) scale(1.0107,1)" font-size="30.02" fill="#262626">1.2</text>
<text transform="translate(485.49,853.80) scale(1.0596,1)" font-size="47.09" fill="#262626">saturation_beta</text>
<text transform="translate(552.22,906.10) scale(1.0164,1)" font-size="47.09" fill="#262626">x2, geo_a</text>
</g>
<g id="BR">
<rect x="1339" y="916" width="1064" height="641" fill="#eeeeee"/>
<rect x="1385" y="916" width="2" height="641" fill="#ffffff"/>
<rect x="1531" y="916" width="2" height="641" fill="#ffffff"/>
<rect x="1677" y="916" width="2" height="641" fill="#ffffff"/>
<rect x="1823" y="916" width="2" height="641" fill="#ffffff"/>
<rect x="1969" y="916" width="2" height="641" fill="#ffffff"/>
<rect x="2114" y="916" width="2" height="641" fill="#ffffff"/>
<rect x="2260" y="916" width="2" height="641" fill="#ffffff"/>
<rect x="1385" y="1557.7" width="3" height="7.8" fill="#8a8a8a"/>
<rect x="1531" y="1557.7" width="3" height="7.8" fill="#8a8a8a"/>
<rect x="1677" y="1557.7" width="3" height="7.8" fill="#8a8a8a"/>
<rect x="1823" y="1557.7" width="3" height="7.8" fill="#8a8a8a"/>
<rect x="1969" y="1557.7" width="3" height="7.8" fill="#8a8a8a"/>
<rect x="2114" y="1557.7" width="3" height="7.8" fill="#8a8a8a"/>
<rect x="2260" y="1557.7" width="3" height="7.8" fill="#8a8a8a"/>
<path d="M1387.5 1408.2 L1388.9 1407.5 L1390.2 1406.7 L1391.4 1405.9 L1392.6 1404.9 L1393.6 1403.9 L1394.6 1402.9 L1395.6 1401.8 L1396.4 1400.6 L1397.3 1399.4 L1398.0 1398.1 L1398.8 1396.8 L1399.5 1395.5 L1400.2 1394.2 L1400.8 1392.8 L1401.5 1391.4 L1402.1 1390.0 L1402.7 1388.6 L1403.3 1387.2 L1403.9 1385.8 L1404.5 1384.4 L1405.1 1383.0 L1405.7 1381.7 L1406.3 1380.3 L1406.9 1378.9 L1407.6 1377.5 L1408.2 1376.2 L1408.8 1374.8 L1409.4 1373.4 L1410.0 1372.0 L1410.6 1370.7 L1411.3 1369.3 L1411.9 1367.9 L1412.5 1366.6 L1413.1 1365.2 L1413.7 1363.9 L1414.3 1362.5 L1414.9 1361.1 L1415.5 1359.8 L1416.1 1358.4 L1416.7 1357.0 L1417.3 1355.6 L1417.8 1354.3 L1418.4 1352.9 L1419.0 1351.5 L1419.6 1350.1 L1420.1 1348.7 L1420.7 1347.3 L1421.3 1346.0 L1421.8 1344.6 L1422.4 1343.2 L1422.9 1341.8 L1423.4 1340.4 L1424.0 1339.0 L1424.5 1337.6 L1425.1 1336.2 L1425.6 1334.8 L1426.1 1333.4 L1426.6 1332.0 L1427.2 1330.6 L1427.7 1329.2 L1428.2 1327.8 L1428.7 1326.3 L1429.2 1324.9 L1429.7 1323.5 L1430.2 1322.1 L1430.7 1320.7 L1431.2 1319.3 L1431.7 1317.8 L1432.2 1316.4 L1432.7 1315.0 L1433.1 1313.6 L1433.6 1312.2 L1434.1 1310.7 L1434.6 1309.3 L1435.0 1307.9 L1435.5 1306.4 L1436.0 1305.0 L1436.4 1303.6 L1436.9 1302.2 L1437.4 1300.7 L1437.8 1299.3 L1438.3 1297.9 L1438.7 1296.4 L1439.2 1295.0 L1439.6 1293.6 L1440.1 1292.1 L1440.5 1290.7 L1441.0 1289.3 L1441.4 1287.8 L1441.8 1286.4 L1442.3 1284.9 L1442.7 1283.5 L1443.1 1282.1 L1443.6 1280.6 L1444.0 1279.2 L1444.4 1277.7 L1444.9 1276.3 L1445.3 1274.9 L1445.7 1273.4 L1446.1 1272.0 L1446.5 1270.5 L1447.0 1269.1 L1447.4 1267.7 L1447.8 1266.2 L1448.2 1264.8 L1448.6 1263.3 L1449.0 1261.9 L1449.4 1260.4 L1449.8 1259.0 L1450.2 1257.6 L1450.6 1256.1 L1451.0 1254.7 L1451.4 1253.2 L1451.8 1251.8 L1452.2 1250.3 L1452.6 1248.9 L1453.0 1247.4 L1453.4 1246.0 L1453.8 1244.5 L1454.2 1243.1 L1454.6 1241.7 L1454.9 1240.2 L1455.3 1238.8 L1455.7 1237.3 L1456.1 1235.9 L1456.5 1234.4 L1456.8 1233.0 L1457.2 1231.5 L1457.6 1230.1 L1458.0 1228.6 L1458.3 1227.2 L1458.7 1225.7 L1459.1 1224.3 L1459.4 1222.8 L1459.8 1221.4 L1460.2 1219.9 L1460.5 1218.5 L1460.9 1217.0 L1461.3 1215.6 L1461.6 1214.1 L1462.0 1212.6 L1462.3 1211.2 L1462.7 1209.7 L1463.1 1208.3 L1463.4 1206.8 L1463.8 1205.4 L1464.1 1203.9 L1464.5 1202.5 L1464.8 1201.0 L1465.2 1199.6 L1465.5 1198.1 L1465.8 1196.6 L1466.2 1195.2 L1466.5 1193.7 L1466.9 1192.3 L1467.2 1190.8 L1467.6 1189.4 L1467.9 1187.9 L1468.2 1186.4 L1468.6 1185.0 L1468.9 1183.5 L1469.2 1182.1 L1469.6 1180.6 L1469.9 1179.1 L1470.2 1177.7 L1470.6 1176.2 L1470.9 1174.7 L1471.2 1173.3 L1471.6 1171.8 L1471.9 1170.4 L1472.2 1168.9 L1472.5 1167.4 L1472.9 1166.0 L1473.2 1164.5 L1473.5 1163.0 L1473.8 1161.6 L1474.2 1160.1 L1474.5 1158.6 L1474.8 1157.2 L1475.1 1155.7 L1475.4 1154.2 L1475.7 1152.8 L1476.1 1151.3 L1476.4 1149.8 L1476.7 1148.4 L1477.0 1146.9 L1477.3 1145.4 L1477.6 1144.0 L1477.9 1142.5 L1478.2 1141.0 L1478.6 1139.6 L1478.9 1138.1 L1479.2 1136.6 L1479.5 1135.2 L1479.8 1133.7 L1480.1 1132.2 L1480.4 1130.7 L1480.7 1129.3 L1481.0 1127.8 L1481.3 1126.3 L1481.6 1124.8 L1481.9 1123.4 L1482.2 1121.9 L1482.5 1120.4 L1482.8 1118.9 L1483.1 1117.5 L1483.4 1116.0 L1483.7 1114.5 L1484.0 1113.0 L1484.3 1111.6 L1484.6 1110.1 L1484.9 1108.6 L1485.2 1107.1 L1485.5 1105.7 L1485.8 1104.2 L1486.1 1102.7 L1486.4 1101.2 L1486.7 1099.7 L1487.0 1098.3 L1487.3 1096.8 L1487.6 1095.3 L1487.9 1093.8 L1488.2 1092.4 L1488.5 1090.9 L1488.8 1089.4 L1489.1 1087.9 L1489.4 1086.4 L1489.7 1085.0 L1489.9 1083.5 L1490.2 1082.0 L1490.5 1080.5 L1490.8 1079.1 L1491.1 1077.6 L1491.4 1076.1 L1491.7 1074.6 L1492.0 1073.1 L1492.3 1071.7 L1492.6 1070.2 L1492.9 1068.7 L1493.2 1067.3 L1493.5 1065.8 L1493.8 1064.3 L1494.1 1062.8 L1494.4 1061.4 L1494.7 1059.9 L1495.0 1058.4 L1495.3 1057.0 L1495.6 1055.5 L1495.9 1054.0 L1496.2 1052.6 L1496.5 1051.1 L1496.8 1049.6 L1497.2 1048.2 L1497.5 1046.7 L1497.8 1045.2 L1498.1 1043.8 L1498.4 1042.3 L1498.7 1040.9 L1499.0 1039.4 L1499.3 1038.0 L1499.6 1036.5 L1500.0 1035.0 L1500.3 1033.6 L1500.6 1032.1 L1500.9 1030.7 L1501.2 1029.2 L1501.6 1027.8 L1501.9 1026.4 L1502.2 1024.9 L1502.5 1023.5 L1502.9 1022.0 L1503.2 1020.6 L1503.5 1019.1 L1503.9 1017.7 L1504.2 1016.3 L1504.5 1014.8 L1504.9 1013.4 L1505.2 1012.0 L1505.6 1010.5 L1505.9 1009.1 L1506.3 1007.7 L1506.6 1006.2 L1507.0 1004.8 L1507.3 1003.4 L1507.7 1001.9 L1508.0 1000.5 L1508.4 999.0 L1508.8 997.6 L1509.1 996.2 L1509.5 994.7 L1509.9 993.3 L1510.3 991.8 L1510.6 990.4 L1511.0 988.9 L1511.4 987.5 L1511.8 986.0 L1512.2 984.6 L1512.6 983.1 L1513.0 981.7 L1513.4 980.2 L1513.8 978.8 L1514.2 977.3 L1514.7 975.8 L1515.1 974.3 L1515.5 972.9 L1516.0 971.4 L1516.4 969.9 L1516.8 968.4 L1517.3 966.9 L1517.8 965.5 L1518.2 964.0 L1518.8 962.6 L1519.3 961.1 L1519.9 959.7 L1520.5 958.3 L1521.2 957.0 L1521.9 955.7 L1522.7 954.4 L1523.5 953.1 L1524.4 952.0 L1525.3 950.8 L1526.4 949.7 L1527.5 948.7 L1528.7 947.8 L1529.9 947.0 L1531.2 946.4 L1532.5 945.9 L1533.9 945.5 L1535.3 945.3 L1536.8 945.3 L1538.3 945.5 L1539.8 945.7 L1541.3 946.0 L1542.8 946.4 L1544.4 946.8 L1545.9 947.1 L1547.4 947.4 L1549.0 947.7 L1550.5 947.9 L1551.9 948.2 L1553.4 948.6 L1554.7 949.0 L1556.1 949.6 L1557.4 950.3 L1558.6 951.1 L1559.8 951.9 L1560.9 952.8 L1562.1 953.8 L1563.1 954.9 L1564.1 956.0 L1565.1 957.2 L1566.0 958.4 L1566.9 959.6 L1567.8 960.8 L1568.6 962.1 L1569.4 963.4 L1570.1 964.7 L1570.8 966.0 L1571.5 967.3 L1572.1 968.7 L1572.7 970.1 L1573.3 971.4 L1573.8 972.8 L1574.4 974.2 L1574.9 975.7 L1575.4 977.1 L1575.8 978.5 L1576.2 980.0 L1576.7 981.4 L1577.1 982.9 L1577.4 984.3 L1577.8 985.8 L1578.2 987.3 L1578.5 988.8 L1578.8 990.3 L1579.2 991.8 L1579.5 993.3 L1579.8 994.8 L1580.1 996.2 L1580.4 997.7 L1580.7 999.2 L1581.0 1000.7 L1581.3 1002.2 L1581.6 1003.7 L1581.9 1005.2 L1582.2 1006.7 L1582.5 1008.2 L1582.8 1009.6 L1583.1 1011.1 L1583.4 1012.6 L1583.6 1014.1 L1583.9 1015.6 L1584.2 1017.0 L1584.5 1018.5 L1584.8 1020.0 L1585.1 1021.5 L1585.4 1022.9 L1585.6 1024.4 L1585.9 1025.9 L1586.2 1027.4 L1586.5 1028.8 L1586.8 1030.3 L1587.0 1031.8 L1587.3 1033.2 L1587.6 1034.7 L1587.9 1036.2 L1588.2 1037.6 L1588.4 1039.1 L1588.7 1040.6 L1589.0 1042.0 L1589.3 1043.5 L1589.5 1045.0 L1589.8 1046.4 L1590.1 1047.9 L1590.4 1049.4 L1590.6 1050.8 L1590.9 1052.3 L1591.2 1053.8 L1591.5 1055.2 L1591.7 1056.7 L1592.0 1058.2 L1592.3 1059.6 L1592.6 1061.1 L1592.8 1062.6 L1593.1 1064.0 L1593.4 1065.5 L1593.7 1067.0 L1593.9 1068.4 L1594.2 1069.9 L1594.5 1071.3 L1594.8 1072.8 L1595.1 1074.3 L1595.3 1075.7 L1595.6 1077.2 L1595.9 1078.7 L1596.2 1080.2 L1596.5 1081.6 L1596.7 1083.1 L1597.0 1084.6 L1597.3 1086.0 L1597.6 1087.5 L1597.9 1089.0 L1598.2 1090.4 L1598.5 1091.9 L1598.8 1093.4 L1599.1 1094.9 L1599.3 1096.3 L1599.6 1097.8 L1599.9 1099.3 L1600.2 1100.8 L1600.5 1102.2 L1600.8 1103.7 L1601.2 1105.2 L1601.5 1106.6 L1601.8 1108.1 L1602.1 1109.6 L1602.4 1111.1 L1602.7 1112.5 L1603.0 1114.0 L1603.4 1115.5 L1603.7 1117.0 L1604.0 1118.4 L1604.4 1119.9 L1604.7 1121.4 L1605.0 1122.8 L1605.4 1124.3 L1605.7 1125.8 L1606.1 1127.2 L1606.5 1128.7 L1606.8 1130.1 L1607.2 1131.6 L1607.5 1133.1 L1607.9 1134.5 L1608.3 1136.0 L1608.7 1137.4 L1609.1 1138.9 L1609.5 1140.3 L1609.9 1141.8 L1610.3 1143.2 L1610.7 1144.7 L1611.1 1146.1 L1611.5 1147.6 L1611.9 1149.0 L1612.3 1150.4 L1612.8 1151.9 L1613.2 1153.3 L1613.7 1154.7 L1614.1 1156.2 L1614.6 1157.6 L1615.0 1159.0 L1615.5 1160.5 L1615.9 1161.9 L1616.4 1163.3 L1616.9 1164.7 L1617.3 1166.1 L1617.8 1167.6 L1618.3 1169.0 L1618.8 1170.4 L1619.3 1171.8 L1619.7 1173.2 L1620.2 1174.6 L1620.7 1176.0 L1621.2 1177.5 L1621.7 1178.9 L1622.2 1180.3 L1622.7 1181.7 L1623.2 1183.1 L1623.7 1184.5 L1624.2 1185.9 L1624.7 1187.3 L1625.2 1188.7 L1625.7 1190.1 L1626.3 1191.5 L1626.8 1192.9 L1627.3 1194.4 L1627.8 1195.8 L1628.3 1197.2 L1628.8 1198.6 L1629.3 1200.0 L1629.8 1201.4 L1630.3 1202.8 L1630.8 1204.2 L1631.3 1205.6 L1631.8 1207.0 L1632.3 1208.4 L1632.8 1209.8 L1633.3 1211.2 L1633.8 1212.6 L1634.3 1214.1 L1634.8 1215.5 L1635.3 1216.9 L1635.8 1218.3 L1636.3 1219.7 L1636.8 1221.1 L1637.3 1222.5 L1637.7 1224.0 L1638.2 1225.4 L1638.7 1226.8 L1639.2 1228.2 L1639.6 1229.6 L1640.1 1231.1 L1640.5 1232.5 L1641.0 1233.9 L1641.4 1235.3 L1641.9 1236.8 L1642.3 1238.2 L1642.8 1239.6 L1643.2 1241.1 L1643.6 1242.5 L1644.0 1243.9 L1644.5 1245.4 L1644.9 1246.8 L1645.3 1248.3 L1645.7 1249.7 L1646.1 1251.2 L1646.5 1252.6 L1646.9 1254.1 L1647.2 1255.5 L1647.6 1257.0 L1648.0 1258.4 L1648.4 1259.9 L1648.7 1261.3 L1649.1 1262.8 L1649.5 1264.3 L1649.8 1265.7 L1650.2 1267.2 L1650.6 1268.6 L1650.9 1270.1 L1651.3 1271.6 L1651.6 1273.0 L1652.0 1274.5 L1652.3 1276.0 L1652.7 1277.4 L1653.0 1278.9 L1653.4 1280.4 L1653.7 1281.8 L1654.0 1283.3 L1654.4 1284.8 L1654.7 1286.2 L1655.1 1287.7 L1655.4 1289.2 L1655.8 1290.6 L1656.1 1292.1 L1656.5 1293.6 L1656.8 1295.0 L1657.1 1296.5 L1657.5 1298.0 L1657.8 1299.4 L1658.2 1300.9 L1658.5 1302.4 L1658.9 1303.8 L1659.2 1305.3 L1659.6 1306.8 L1660.0 1308.2 L1660.3 1309.7 L1660.7 1311.1 L1661.0 1312.6 L1661.4 1314.1 L1661.8 1315.5 L1662.2 1317.0 L1662.5 1318.4 L1662.9 1319.9 L1663.3 1321.3 L1663.7 1322.8 L1664.1 1324.2 L1664.5 1325.7 L1664.9 1327.1 L1665.3 1328.6 L1665.7 1330.0 L1666.1 1331.4 L1666.5 1332.9 L1667.0 1334.3 L1667.4 1335.7 L1667.8 1337.2 L1668.3 1338.6 L1668.7 1340.0 L1669.2 1341.5 L1669.6 1342.9 L1670.1 1344.3 L1670.6 1345.7 L1671.1 1347.1 L1671.5 1348.5 L1672.0 1349.9 L1672.5 1351.4 L1673.0 1352.8 L1673.6 1354.2 L1674.1 1355.5 L1674.6 1356.9 L1675.2 1358.3 L1675.7 1359.7 L1676.3 1361.1 L1676.8 1362.5 L1677.4 1363.9 L1678.0 1365.2 L1678.6 1366.6 L1679.2 1368.0 L1679.8 1369.3 L1680.4 1370.7 L1681.0 1372.0 L1681.7 1373.4 L1682.3 1374.8 L1683.0 1376.1 L1683.6 1377.4 L1684.3 1378.8 L1685.0 1380.1 L1685.6 1381.4 L1686.3 1382.8 L1687.0 1384.1 L1687.7 1385.4 L1688.5 1386.7 L1689.2 1388.0 L1689.9 1389.3 L1690.7 1390.6 L1691.4 1391.9 L1692.2 1393.2 L1692.9 1394.5 L1693.7 1395.8 L1694.5 1397.1 L1695.3 1398.4 L1696.0 1399.6 L1696.8 1400.9 L1697.6 1402.2 L1698.5 1403.4 L1699.3 1404.7 L1700.1 1405.9 L1701.0 1407.2 L1701.8 1408.4 L1702.6 1409.7 L1703.5 1410.9 L1704.4 1412.1 L1705.2 1413.4 L1706.1 1414.6 L1707.0 1415.8 L1707.9 1417.0 L1708.8 1418.2 L1709.7 1419.4 L1710.6 1420.6 L1711.5 1421.8 L1712.4 1423.0 L1713.4 1424.2 L1714.3 1425.4 L1715.2 1426.5 L1716.2 1427.7 L1717.1 1428.9 L1718.1 1430.0 L1719.1 1431.2 L1720.0 1432.3 L1721.0 1433.5 L1722.0 1434.6 L1723.0 1435.7 L1724.0 1436.9 L1725.0 1438.0 L1726.0 1439.1 L1727.0 1440.2 L1728.0 1441.3 L1729.1 1442.4 L1730.1 1443.5 L1731.1 1444.6 L1732.2 1445.7 L1733.2 1446.8 L1734.3 1447.9 L1735.3 1448.9 L1736.4 1450.0 L1737.4 1451.1 L1738.5 1452.1 L1739.6 1453.2 L1740.7 1454.2 L1741.7 1455.2 L1742.8 1456.3 L1743.9 1457.3 L1745.0 1458.3 L1746.1 1459.3 L1747.3 1460.3 L1748.4 1461.3 L1749.5 1462.3 L1750.6 1463.3 L1751.7 1464.3 L1752.9 1465.3 L1754.0 1466.3 L1755.2 1467.2 L1756.3 1468.2 L1757.5 1469.1 L1758.6 1470.1 L1759.8 1471.0 L1761.0 1472.0 L1762.1 1472.9 L1763.3 1473.8 L1764.5 1474.7 L1765.7 1475.7 L1766.9 1476.6 L1768.1 1477.5 L1769.3 1478.4 L1770.5 1479.2 L1771.7 1480.1 L1772.9 1481.0 L1774.1 1481.9 L1775.4 1482.7 L1776.6 1483.6 L1777.8 1484.4 L1779.1 1485.3 L1780.3 1486.1 L1781.6 1486.9 L1782.8 1487.7 L1784.1 1488.5 L1785.3 1489.3 L1786.6 1490.1 L1787.9 1490.9 L1789.1 1491.7 L1790.4 1492.5 L1791.7 1493.3 L1793.0 1494.0 L1794.3 1494.8 L1795.6 1495.5 L1796.9 1496.3 L1798.2 1497.0 L1799.5 1497.7 L1800.8 1498.5 L1802.1 1499.2 L1803.5 1499.9 L1804.8 1500.6 L1806.1 1501.3 L1807.4 1502.0 L1808.8 1502.6 L1810.1 1503.3 L1811.5 1504.0 L1812.8 1504.6 L1814.2 1505.3 L1815.5 1505.9 L1816.9 1506.5 L1818.3 1507.1 L1819.6 1507.7 L1821.0 1508.3 L1822.4 1508.9 L1823.8 1509.4 L1825.2 1510.0 L1826.6 1510.5 L1828.0 1511.0 L1829.4 1511.5 L1830.8 1512.0 L1832.2 1512.5 L1833.6 1512.9 L1835.1 1513.3 L1836.5 1513.7 L1838.0 1514.1 L1839.4 1514.5 L1840.9 1514.8 L1842.3 1515.2 L1843.8 1515.5 L1845.2 1515.7 L1846.7 1516.0 L1848.2 1516.2 L1849.7 1516.4 L1851.2 1516.6 L1852.7 1516.7 L1854.2 1516.9 L1855.7 1517.0 L1857.2 1517.1 L1858.7 1517.2 L1860.2 1517.3 L1861.7 1517.4 L1863.3 1517.5 L1864.8 1517.6 L1866.3 1517.7 L1867.8 1517.8 L1869.3 1517.9 L1870.8 1518.0 L1872.3 1518.2 L1873.8 1518.3 L1875.3 1518.5 L1876.8 1518.7 L1878.3 1518.9 L1879.8 1519.1 L1881.2 1519.4 L1882.7 1519.6 L1884.2 1519.9 L1885.7 1520.1 L1887.1 1520.4 L1888.6 1520.6 L1890.1 1520.8 L1891.5 1521.0 L1893.0 1521.2 L1894.5 1521.4 L1896.0 1521.5 L1897.5 1521.6 L1898.9 1521.8 L1900.4 1521.9 L1901.9 1522.0 L1903.4 1522.0 L1904.9 1522.1 L1906.4 1522.2 L1907.9 1522.2 L1909.4 1522.3 L1910.9 1522.3 L1912.4 1522.3 L1913.9 1522.3 L1915.4 1522.3 L1916.9 1522.4 L1918.4 1522.4 L1919.9 1522.4 L1921.4 1522.4 L1922.9 1522.4 L1924.4 1522.4 L1925.9 1522.4 L1927.4 1522.4 L1928.9 1522.4 L1930.4 1522.4 L1931.9 1522.4 L1933.4 1522.4 L1934.9 1522.5 L1936.4 1522.5 L1937.9 1522.5 L1939.4 1522.6 L1940.9 1522.6 L1942.4 1522.7 L1943.9 1522.8 L1945.4 1522.9 L1946.9 1523.0 L1948.4 1523.1 L1949.9 1523.2 L1951.4 1523.4 L1952.9 1523.5 L1954.4 1523.7 L1955.9 1523.8 L1957.4 1524.0 L1958.9 1524.2 L1960.4 1524.3 L1961.8 1524.5 L1963.3 1524.7 L1964.8 1524.8 L1966.3 1525.0 L1967.8 1525.1 L1969.3 1525.3 L1970.8 1525.4 L1972.3 1525.5 L1973.8 1525.6 L1975.2 1525.7 L1976.7 1525.8 L1978.2 1525.8 L1979.7 1525.9 L1981.2 1525.9 L1982.7 1525.9 L1984.2 1525.9 L1985.7 1525.8 L1987.2 1525.8 L1988.7 1525.7 L1990.2 1525.5 L1991.7 1525.4 L1993.2 1525.2 L1994.7 1525.0 L1996.2 1524.8 L1997.7 1524.5 L1999.2 1524.3 L2000.7 1524.0 L2002.2 1523.8 L2003.7 1523.5 L2005.2 1523.3 L2006.7 1523.1 L2008.2 1522.8 L2009.7 1522.6 L2011.2 1522.4 L2012.7 1522.3 L2014.2 1522.1 L2015.7 1522.0 L2017.2 1521.9 L2018.7 1521.8 L2020.2 1521.8 L2021.7 1521.9 L2023.2 1521.9 L2024.6 1522.0 L2026.1 1522.2 L2027.6 1522.4 L2029.1 1522.6 L2030.6 1522.9 L2032.1 1523.1 L2033.6 1523.4 L2035.0 1523.7 L2036.5 1523.9 L2038.0 1524.2 L2039.5 1524.5 L2041.0 1524.7 L2042.5 1524.9 L2044.0 1525.2 L2045.4 1525.4 L2046.9 1525.5 L2048.4 1525.7 L2049.9 1525.9 L2051.4 1526.0 L2052.9 1526.2 L2054.4 1526.3 L2055.9 1526.4 L2057.4 1526.6 L2058.9 1526.7 L2060.4 1526.7 L2061.9 1526.8 L2063.3 1526.9 L2064.8 1527.0 L2066.3 1527.0 L2067.8 1527.1 L2069.3 1527.1 L2070.8 1527.2 L2072.3 1527.2 L2073.8 1527.2 L2075.3 1527.3 L2076.8 1527.3 L2078.3 1527.3 L2079.8 1527.3 L2081.3 1527.3 L2082.8 1527.3 L2084.3 1527.3 L2085.8 1527.3 L2087.3 1527.3 L2088.8 1527.3 L2090.3 1527.3 L2091.8 1527.3 L2093.3 1527.3 L2094.8 1527.3 L2096.3 1527.3 L2097.8 1527.3 L2099.3 1527.3 L2100.8 1527.2 L2102.3 1527.2 L2103.8 1527.2 L2105.3 1527.2 L2106.8 1527.2 L2108.3 1527.2 L2109.8 1527.2 L2111.3 1527.2 L2112.8 1527.2 L2114.3 1527.1 L2115.8 1527.1 L2117.3 1527.1 L2118.8 1527.1 L2120.3 1527.1 L2121.8 1527.1 L2123.3 1527.1 L2124.8 1527.1 L2126.3 1527.1 L2127.8 1527.0 L2129.3 1527.0 L2130.8 1527.0 L2132.3 1527.0 L2133.8 1527.0 L2135.3 1527.0 L2136.8 1527.0 L2138.3 1527.0 L2139.8 1527.0 L2141.3 1526.9 L2142.8 1526.9 L2144.3 1526.9 L2145.8 1526.9 L2147.3 1526.9 L2148.8 1526.9 L2150.3 1526.9 L2151.8 1526.9 L2153.3 1526.9 L2154.8 1526.8 L2156.3 1526.8 L2157.8 1526.8 L2159.3 1526.8 L2160.8 1526.8 L2162.3 1526.8 L2163.8 1526.8 L2165.3 1526.8 L2166.7 1526.8 L2168.2 1526.8 L2169.7 1526.8 L2171.2 1526.8 L2172.7 1526.7 L2174.2 1526.7 L2175.7 1526.7 L2177.2 1526.7 L2178.7 1526.7 L2180.2 1526.7 L2181.7 1526.7 L2183.2 1526.7 L2184.7 1526.7 L2186.2 1526.7 L2187.7 1526.7 L2189.2 1526.7 L2190.7 1526.7 L2192.2 1526.7 L2193.7 1526.7 L2195.2 1526.7 L2196.7 1526.7 L2198.2 1526.7 L2199.7 1526.7 L2201.2 1526.7 L2202.7 1526.7 L2204.2 1526.7 L2205.7 1526.7 L2207.2 1526.7 L2208.7 1526.7 L2210.2 1526.7 L2211.7 1526.7 L2213.2 1526.7 L2214.7 1526.7 L2216.2 1526.7 L2217.7 1526.7 L2219.2 1526.7 L2220.7 1526.7 L2222.2 1526.7 L2223.7 1526.7 L2225.2 1526.7 L2226.7 1526.7 L2228.2 1526.8 L2229.7 1526.8 L2231.2 1526.8 L2232.7 1526.8 L2234.2 1526.8 L2235.7 1526.8 L2237.2 1526.8 L2238.7 1526.8 L2240.2 1526.9 L2241.7 1526.9 L2243.2 1526.9 L2244.7 1526.9 L2246.2 1526.9 L2247.7 1526.9 L2249.2 1526.9 L2250.7 1527.0 L2252.2 1527.0 L2253.7 1527.0 L2255.2 1527.0 L2256.7 1527.0 L2258.2 1527.0 L2259.7 1527.0 L2261.2 1527.0 L2262.7 1527.1 L2264.2 1527.1 L2265.7 1527.1 L2267.2 1527.1 L2268.7 1527.1 L2270.2 1527.1 L2271.7 1527.1 L2273.2 1527.1 L2274.7 1527.1 L2276.2 1527.1 L2277.7 1527.1 L2279.2 1527.1 L2280.7 1527.1 L2282.2 1527.1 L2283.7 1527.1 L2285.2 1527.1 L2286.7 1527.1 L2288.2 1527.1 L2289.7 1527.1 L2291.2 1527.1 L2292.7 1527.1 L2294.2 1527.1 L2295.7 1527.1 L2297.2 1527.1 L2298.7 1527.1 L2300.2 1527.0 L2301.7 1527.0 L2303.2 1527.0 L2304.7 1527.0 L2306.2 1527.0 L2307.7 1526.9 L2309.2 1526.9 L2310.7 1526.9 L2312.2 1526.8 L2313.7 1526.8 L2315.2 1526.7 L2316.7 1526.7 L2318.2 1526.7 L2319.7 1526.6 L2321.2 1526.6 L2322.6 1526.5 L2324.1 1526.5 L2325.6 1526.4 L2327.1 1526.3 L2328.6 1526.3 L2330.1 1526.2 L2331.6 1526.1 L2333.1 1526.1 L2334.6 1526.0 L2336.1 1525.9 L2337.6 1525.8 L2339.1 1525.7 L2340.6 1525.6 L2342.1 1525.5 L2343.6 1525.4 L2345.1 1525.3 L2346.6 1525.2 L2348.1 1525.1 L2349.6 1525.0 L2351.1 1524.9 L2352.6 1524.8 L2354.1 1524.7 L2354.7 1524.6" fill="none" stroke="#2a2eec" stroke-width="4.17" stroke-linecap="round" stroke-linejoin="round"/>
<rect x="1395.1" y="1512" width="328.9" height="8" fill="#000000"/>
<line x1="1476.15" x2="1476.15" y1="1524.95" y2="1077.10" stroke="#fa7c17" stroke-opacity="0.65" stroke-width="4.17" stroke-linecap="round"/>
<text transform="translate(1263.49,1485.03) scale(1.0597,1)" font-size="44.15" fill="#262626">0.013</text>
<text transform="translate(1738.16,1485.03) scale(1.0625,1)" font-size="44.15" fill="#262626">0.46</text>
<text transform="translate(1469.27,1344.30) scale(1.0253,1)" font-size="44.15" fill="#262626">94% HDI</text>
<text transform="translate(1439.98,1038.96) scale(1.1000,1)" font-size="44.15" fill="#262626">mean=0.24</text>
<text transform="translate(1260.40,1160.74) scale(1.1855,1)" font-size="44.15" font-weight="bold" fill="#fa7c17">16.3% &lt;0.123353&lt; 83.7%</text>
<text transform="translate(1364.94,1596.70) scale(1.0282,1)" font-size="30.02" fill="#262626">0.0</text>
<text transform="translate(1510.96,1596.70) scale(1.0131,1)" font-size="30.02" fill="#262626">0.2</text>
<text transform="translate(1656.94,1596.70) scale(1.0278,1)" font-size="30.02" fill="#262626">0.4</text>
<text transform="translate(1802.93,1596.70) scale(1.0345,1)" font-size="30.02" fill="#262626">0.6</text>
<text transform="translate(1948.94,1596.70) scale(1.0302,1)" font-size="30.02" fill="#262626">0.8</text>
<text transform="translate(2094.02,1596.70) scale(1.0263,1)" font-size="30.02" fill="#262626">1.0</text>
<text transform="translate(2240.05,1596.70) scale(1.0107,1)" font-size="30.02" fill="#262626">1.2</text>
<text transform="translate(1697.49,853.80) scale(1.0596,1)" font-size="47.09" fill="#262626">saturation_beta</text>
<text transform="translate(1763.71,906.10) scale(1.0389,1)" font-size="47.09" fill="#262626">x2, geo_b</text>
</g>
</svg>
</body></html>
